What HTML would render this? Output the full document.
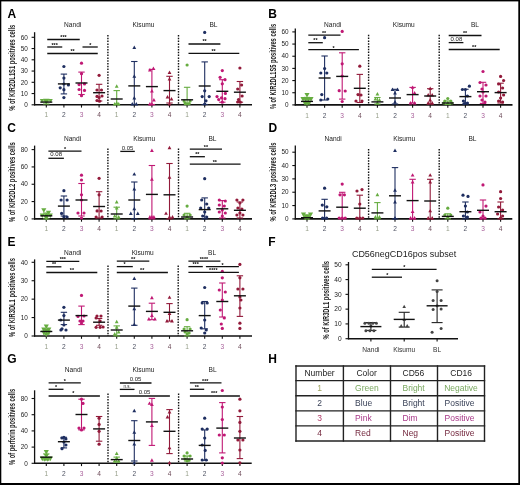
<!DOCTYPE html><html><head><meta charset="utf-8"><style>html,body{margin:0;padding:0;background:#fff;}svg{display:block;will-change:transform;}</style></head><body>
<svg width="520" height="485" viewBox="0 0 520 485" font-family='"Liberation Sans", sans-serif'>
<rect x="0" y="0" width="520" height="485" fill="#fff"/>
<text transform="translate(15,67.75) rotate(-90)" x="0" y="0" font-size="8.6" fill="#1a1a1a" font-weight="bold" text-anchor="middle" textLength="86" lengthAdjust="spacingAndGlyphs">% of KIR2DL1S1 positives cells</text>
<text x="72.7" y="26.7" font-size="6.6" fill="#222" text-anchor="middle" font-weight="normal" >Nandi</text>
<text x="143.5" y="26.7" font-size="6.6" fill="#222" text-anchor="middle" font-weight="normal" >Kisumu</text>
<text x="213.5" y="26.7" font-size="6.6" fill="#222" text-anchor="middle" font-weight="normal" >BL</text>
<line x1="107.9" y1="35" x2="107.9" y2="104.8" stroke="#111" stroke-width="1.4" stroke-dasharray="1.5 1.3"/>
<line x1="178.5" y1="35" x2="178.5" y2="104.8" stroke="#111" stroke-width="1.4" stroke-dasharray="1.5 1.3"/>
<line x1="34.6" y1="32.2" x2="34.6" y2="105.4" stroke="#111" stroke-width="1.3" />
<line x1="34" y1="104.8" x2="252" y2="104.8" stroke="#111" stroke-width="1.6" />
<line x1="31.6" y1="104.8" x2="34.6" y2="104.8" stroke="#111" stroke-width="1.1" />
<text x="27.8" y="107" font-size="6.4" fill="#222" text-anchor="end" font-weight="normal" >0</text>
<line x1="31.6" y1="93.55" x2="34.6" y2="93.55" stroke="#111" stroke-width="1.1" />
<text x="27.8" y="95.75" font-size="6.4" fill="#222" text-anchor="end" font-weight="normal" >10</text>
<line x1="31.6" y1="82.3" x2="34.6" y2="82.3" stroke="#111" stroke-width="1.1" />
<text x="27.8" y="84.5" font-size="6.4" fill="#222" text-anchor="end" font-weight="normal" >20</text>
<line x1="31.6" y1="71.05" x2="34.6" y2="71.05" stroke="#111" stroke-width="1.1" />
<text x="27.8" y="73.25" font-size="6.4" fill="#222" text-anchor="end" font-weight="normal" >30</text>
<line x1="31.6" y1="59.8" x2="34.6" y2="59.8" stroke="#111" stroke-width="1.1" />
<text x="27.8" y="62" font-size="6.4" fill="#222" text-anchor="end" font-weight="normal" >40</text>
<line x1="31.6" y1="48.55" x2="34.6" y2="48.55" stroke="#111" stroke-width="1.1" />
<text x="27.8" y="50.75" font-size="6.4" fill="#222" text-anchor="end" font-weight="normal" >50</text>
<line x1="31.6" y1="37.3" x2="34.6" y2="37.3" stroke="#111" stroke-width="1.1" />
<text x="27.8" y="39.5" font-size="6.4" fill="#222" text-anchor="end" font-weight="normal" >60</text>
<line x1="46.3" y1="104.8" x2="46.3" y2="107.6" stroke="#111" stroke-width="1.1" />
<text x="46.3" y="117.4" font-size="6.6" fill="#959d88" text-anchor="middle" font-weight="normal" >1</text>
<line x1="46.3" y1="101" x2="46.3" y2="104" stroke="#66ac40" stroke-width="1.1" />
<line x1="43.1" y1="101" x2="49.5" y2="101" stroke="#66ac40" stroke-width="1.1" />
<line x1="43.1" y1="104" x2="49.5" y2="104" stroke="#66ac40" stroke-width="1.1" />
<path d="M42 102.89L44.18 98.99L39.82 98.99Z" fill="#66ac40"/>
<path d="M50.6 102.89L52.78 98.99L48.42 98.99Z" fill="#66ac40"/>
<path d="M46.3 104.58L49.51 98.84L43.09 98.84Z" fill="#66ac40"/>
<line x1="40.3" y1="102.1" x2="52.3" y2="102.1" stroke="#111" stroke-width="1.4" />
<line x1="63.9" y1="104.8" x2="63.9" y2="107.6" stroke="#111" stroke-width="1.1" />
<text x="63.9" y="117.4" font-size="6.6" fill="#4e5262" text-anchor="middle" font-weight="normal" >2</text>
<line x1="63.9" y1="74.1" x2="63.9" y2="93.9" stroke="#1e2e60" stroke-width="1.1" />
<line x1="60.7" y1="74.1" x2="67.1" y2="74.1" stroke="#1e2e60" stroke-width="1.1" />
<line x1="60.7" y1="93.9" x2="67.1" y2="93.9" stroke="#1e2e60" stroke-width="1.1" />
<circle cx="63.9" cy="66.5" r="1.6" fill="#1e2e60"/>
<circle cx="63.9" cy="78.1" r="1.6" fill="#1e2e60"/>
<circle cx="68.4" cy="84.9" r="1.6" fill="#1e2e60"/>
<circle cx="60.2" cy="87.8" r="1.6" fill="#1e2e60"/>
<circle cx="63.9" cy="89.7" r="1.6" fill="#1e2e60"/>
<circle cx="63.9" cy="97.6" r="1.6" fill="#1e2e60"/>
<circle cx="63.9" cy="84" r="1.6" fill="#1e2e60"/>
<line x1="57.9" y1="83.9" x2="69.9" y2="83.9" stroke="#111" stroke-width="1.4" />
<line x1="81.5" y1="104.8" x2="81.5" y2="107.6" stroke="#111" stroke-width="1.1" />
<text x="81.5" y="117.4" font-size="6.6" fill="#a8609a" text-anchor="middle" font-weight="normal" >3</text>
<line x1="81.5" y1="72.1" x2="81.5" y2="94.5" stroke="#c01874" stroke-width="1.1" />
<line x1="78.3" y1="72.1" x2="84.7" y2="72.1" stroke="#c01874" stroke-width="1.1" />
<line x1="78.3" y1="94.5" x2="84.7" y2="94.5" stroke="#c01874" stroke-width="1.1" />
<circle cx="81.5" cy="63.2" r="1.6" fill="#c01874"/>
<circle cx="81.5" cy="73.7" r="1.6" fill="#c01874"/>
<circle cx="79.1" cy="84.6" r="1.6" fill="#c01874"/>
<circle cx="84.5" cy="83.9" r="1.6" fill="#c01874"/>
<circle cx="79.1" cy="89.5" r="1.6" fill="#c01874"/>
<circle cx="84.5" cy="90.4" r="1.6" fill="#c01874"/>
<circle cx="81.5" cy="95.7" r="1.6" fill="#c01874"/>
<line x1="75.5" y1="83" x2="87.5" y2="83" stroke="#111" stroke-width="1.4" />
<line x1="99.1" y1="104.8" x2="99.1" y2="107.6" stroke="#111" stroke-width="1.1" />
<text x="99.1" y="117.4" font-size="6.6" fill="#6e4c5a" text-anchor="middle" font-weight="normal" >4</text>
<line x1="99.1" y1="84.3" x2="99.1" y2="101" stroke="#921a3a" stroke-width="1.1" />
<line x1="95.9" y1="84.3" x2="102.3" y2="84.3" stroke="#921a3a" stroke-width="1.1" />
<line x1="95.9" y1="101" x2="102.3" y2="101" stroke="#921a3a" stroke-width="1.1" />
<circle cx="99.1" cy="75.3" r="1.6" fill="#921a3a"/>
<circle cx="97" cy="90" r="1.6" fill="#921a3a"/>
<circle cx="101.5" cy="90" r="1.6" fill="#921a3a"/>
<circle cx="97" cy="96.4" r="1.6" fill="#921a3a"/>
<circle cx="102" cy="96" r="1.6" fill="#921a3a"/>
<circle cx="99.1" cy="97.5" r="1.6" fill="#921a3a"/>
<circle cx="97" cy="100.5" r="1.6" fill="#921a3a"/>
<circle cx="99.5" cy="101.2" r="1.6" fill="#921a3a"/>
<line x1="93.1" y1="92.7" x2="105.1" y2="92.7" stroke="#111" stroke-width="1.4" />
<line x1="116.7" y1="104.8" x2="116.7" y2="107.6" stroke="#111" stroke-width="1.1" />
<text x="116.7" y="117.4" font-size="6.6" fill="#959d88" text-anchor="middle" font-weight="normal" >1</text>
<line x1="116.7" y1="90.6" x2="116.7" y2="104.5" stroke="#66ac40" stroke-width="1.1" />
<line x1="113.5" y1="90.6" x2="119.9" y2="90.6" stroke="#66ac40" stroke-width="1.1" />
<line x1="113.5" y1="104.5" x2="119.9" y2="104.5" stroke="#66ac40" stroke-width="1.1" />
<path d="M116.7 84.3L118.6 87.7L114.8 87.7Z" fill="#66ac40"/>
<path d="M116.7 101L118.6 104.4L114.8 104.4Z" fill="#66ac40"/>
<path d="M114.7 102L116.6 105.4L112.8 105.4Z" fill="#66ac40"/>
<path d="M118.7 102L120.6 105.4L116.8 105.4Z" fill="#66ac40"/>
<line x1="110.7" y1="99" x2="122.7" y2="99" stroke="#111" stroke-width="1.4" />
<line x1="134.3" y1="104.8" x2="134.3" y2="107.6" stroke="#111" stroke-width="1.1" />
<text x="134.3" y="117.4" font-size="6.6" fill="#4e5262" text-anchor="middle" font-weight="normal" >2</text>
<line x1="134.3" y1="61.5" x2="134.3" y2="104.5" stroke="#1e2e60" stroke-width="1.1" />
<line x1="131.1" y1="61.5" x2="137.5" y2="61.5" stroke="#1e2e60" stroke-width="1.1" />
<line x1="131.1" y1="104.5" x2="137.5" y2="104.5" stroke="#1e2e60" stroke-width="1.1" />
<path d="M134.3 45.5L136.2 48.9L132.4 48.9Z" fill="#1e2e60"/>
<path d="M134.3 74.3L136.2 77.7L132.4 77.7Z" fill="#1e2e60"/>
<path d="M134.3 96.1L136.2 99.5L132.4 99.5Z" fill="#1e2e60"/>
<path d="M132.3 102L134.2 105.4L130.4 105.4Z" fill="#1e2e60"/>
<path d="M136.3 102L138.2 105.4L134.4 105.4Z" fill="#1e2e60"/>
<line x1="128.3" y1="85.9" x2="140.3" y2="85.9" stroke="#111" stroke-width="1.4" />
<line x1="151.9" y1="104.8" x2="151.9" y2="107.6" stroke="#111" stroke-width="1.1" />
<text x="151.9" y="117.4" font-size="6.6" fill="#a8609a" text-anchor="middle" font-weight="normal" >3</text>
<line x1="151.9" y1="69.4" x2="151.9" y2="104.5" stroke="#c01874" stroke-width="1.1" />
<line x1="148.7" y1="69.4" x2="155.1" y2="69.4" stroke="#c01874" stroke-width="1.1" />
<line x1="148.7" y1="104.5" x2="155.1" y2="104.5" stroke="#c01874" stroke-width="1.1" />
<path d="M153.4 66.5L155.3 69.9L151.5 69.9Z" fill="#c01874"/>
<path d="M149.9 68L151.8 71.4L148 71.4Z" fill="#c01874"/>
<path d="M151.9 89L153.8 92.4L150 92.4Z" fill="#c01874"/>
<path d="M153.9 98L155.8 101.4L152 101.4Z" fill="#c01874"/>
<path d="M149.9 102L151.8 105.4L148 105.4Z" fill="#c01874"/>
<path d="M151.9 102L153.8 105.4L150 105.4Z" fill="#c01874"/>
<line x1="145.9" y1="86.6" x2="157.9" y2="86.6" stroke="#111" stroke-width="1.4" />
<line x1="169.5" y1="104.8" x2="169.5" y2="107.6" stroke="#111" stroke-width="1.1" />
<text x="169.5" y="117.4" font-size="6.6" fill="#6e4c5a" text-anchor="middle" font-weight="normal" >4</text>
<line x1="169.5" y1="76.3" x2="169.5" y2="103" stroke="#921a3a" stroke-width="1.1" />
<line x1="166.3" y1="76.3" x2="172.7" y2="76.3" stroke="#921a3a" stroke-width="1.1" />
<line x1="166.3" y1="103" x2="172.7" y2="103" stroke="#921a3a" stroke-width="1.1" />
<path d="M169.5 70.5L171.4 73.9L167.6 73.9Z" fill="#921a3a"/>
<path d="M169.5 77L171.4 80.4L167.6 80.4Z" fill="#921a3a"/>
<path d="M167.5 95L169.4 98.4L165.6 98.4Z" fill="#921a3a"/>
<path d="M171.5 97L173.4 100.4L169.6 100.4Z" fill="#921a3a"/>
<path d="M169.5 102L171.4 105.4L167.6 105.4Z" fill="#921a3a"/>
<line x1="163.5" y1="90.6" x2="175.5" y2="90.6" stroke="#111" stroke-width="1.4" />
<line x1="187.1" y1="104.8" x2="187.1" y2="107.6" stroke="#111" stroke-width="1.1" />
<text x="187.1" y="117.4" font-size="6.6" fill="#959d88" text-anchor="middle" font-weight="normal" >1</text>
<line x1="187.1" y1="87.3" x2="187.1" y2="104.5" stroke="#66ac40" stroke-width="1.1" />
<line x1="183.9" y1="87.3" x2="190.3" y2="87.3" stroke="#66ac40" stroke-width="1.1" />
<line x1="183.9" y1="104.5" x2="190.3" y2="104.5" stroke="#66ac40" stroke-width="1.1" />
<circle cx="187.1" cy="65" r="1.6" fill="#66ac40"/>
<circle cx="184.1" cy="101" r="1.6" fill="#66ac40"/>
<circle cx="190.1" cy="101" r="1.6" fill="#66ac40"/>
<circle cx="185.1" cy="103" r="1.6" fill="#66ac40"/>
<circle cx="189.1" cy="103.5" r="1.6" fill="#66ac40"/>
<circle cx="187.1" cy="104" r="1.6" fill="#66ac40"/>
<line x1="181.1" y1="99.8" x2="193.1" y2="99.8" stroke="#111" stroke-width="1.4" />
<line x1="204.7" y1="104.8" x2="204.7" y2="107.6" stroke="#111" stroke-width="1.1" />
<text x="204.7" y="117.4" font-size="6.6" fill="#4e5262" text-anchor="middle" font-weight="normal" >2</text>
<line x1="204.7" y1="61.9" x2="204.7" y2="104.5" stroke="#1e2e60" stroke-width="1.1" />
<line x1="201.5" y1="61.9" x2="207.9" y2="61.9" stroke="#1e2e60" stroke-width="1.1" />
<line x1="201.5" y1="104.5" x2="207.9" y2="104.5" stroke="#1e2e60" stroke-width="1.1" />
<circle cx="204.7" cy="32.4" r="1.6" fill="#1e2e60"/>
<circle cx="204.7" cy="90.8" r="1.6" fill="#1e2e60"/>
<circle cx="202.2" cy="96.6" r="1.6" fill="#1e2e60"/>
<circle cx="209.2" cy="96.6" r="1.6" fill="#1e2e60"/>
<circle cx="206" cy="100.8" r="1.6" fill="#1e2e60"/>
<circle cx="204.7" cy="104" r="1.6" fill="#1e2e60"/>
<line x1="198.7" y1="86" x2="210.7" y2="86" stroke="#111" stroke-width="1.4" />
<line x1="222.3" y1="104.8" x2="222.3" y2="107.6" stroke="#111" stroke-width="1.1" />
<text x="222.3" y="117.4" font-size="6.6" fill="#a8609a" text-anchor="middle" font-weight="normal" >3</text>
<line x1="222.3" y1="79.7" x2="222.3" y2="102.2" stroke="#c01874" stroke-width="1.1" />
<line x1="219.1" y1="79.7" x2="225.5" y2="79.7" stroke="#c01874" stroke-width="1.1" />
<line x1="219.1" y1="102.2" x2="225.5" y2="102.2" stroke="#c01874" stroke-width="1.1" />
<circle cx="222.3" cy="70.6" r="1.6" fill="#c01874"/>
<circle cx="220.1" cy="77.3" r="1.6" fill="#c01874"/>
<circle cx="225" cy="79.7" r="1.6" fill="#c01874"/>
<circle cx="222.3" cy="83.8" r="1.6" fill="#c01874"/>
<circle cx="225.4" cy="93.4" r="1.6" fill="#c01874"/>
<circle cx="217" cy="96.6" r="1.6" fill="#c01874"/>
<circle cx="221.5" cy="97.8" r="1.6" fill="#c01874"/>
<circle cx="218.7" cy="99.6" r="1.6" fill="#c01874"/>
<circle cx="225" cy="98.7" r="1.6" fill="#c01874"/>
<circle cx="222.3" cy="102.2" r="1.6" fill="#c01874"/>
<line x1="216.3" y1="91.3" x2="228.3" y2="91.3" stroke="#111" stroke-width="1.4" />
<line x1="239.9" y1="104.8" x2="239.9" y2="107.6" stroke="#111" stroke-width="1.1" />
<text x="239.9" y="117.4" font-size="6.6" fill="#6e4c5a" text-anchor="middle" font-weight="normal" >4</text>
<line x1="239.9" y1="81.5" x2="239.9" y2="102.2" stroke="#921a3a" stroke-width="1.1" />
<line x1="236.7" y1="81.5" x2="243.1" y2="81.5" stroke="#921a3a" stroke-width="1.1" />
<line x1="236.7" y1="102.2" x2="243.1" y2="102.2" stroke="#921a3a" stroke-width="1.1" />
<circle cx="239.9" cy="68" r="1.6" fill="#921a3a"/>
<circle cx="241.6" cy="85" r="1.6" fill="#921a3a"/>
<circle cx="237.7" cy="89" r="1.6" fill="#921a3a"/>
<circle cx="242.1" cy="96" r="1.6" fill="#921a3a"/>
<circle cx="238.5" cy="99.6" r="1.6" fill="#921a3a"/>
<circle cx="240.3" cy="102.2" r="1.6" fill="#921a3a"/>
<circle cx="237.7" cy="102" r="1.6" fill="#921a3a"/>
<line x1="233.9" y1="92.2" x2="245.9" y2="92.2" stroke="#111" stroke-width="1.4" />
<line x1="47.25" y1="39.5" x2="79.75" y2="39.5" stroke="#111" stroke-width="1.3" />
<text x="63.5" y="39.37" font-size="5.4" fill="#000" text-anchor="middle" font-weight="bold" >***</text>
<line x1="47.25" y1="47" x2="62.25" y2="47" stroke="#111" stroke-width="1.3" />
<text x="54.6" y="46.52" font-size="5.4" fill="#000" text-anchor="middle" font-weight="bold" >***</text>
<line x1="82.5" y1="47" x2="97.75" y2="47" stroke="#111" stroke-width="1.3" />
<text x="90.25" y="46.77" font-size="5.4" fill="#000" text-anchor="middle" font-weight="bold" >*</text>
<line x1="47.25" y1="53.5" x2="97.75" y2="53.5" stroke="#111" stroke-width="1.3" />
<text x="72.5" y="53.37" font-size="5.4" fill="#000" text-anchor="middle" font-weight="bold" >**</text>
<line x1="188.5" y1="44" x2="220.4" y2="44" stroke="#111" stroke-width="1.3" />
<text x="204.6" y="43.37" font-size="5.4" fill="#000" text-anchor="middle" font-weight="bold" >**</text>
<line x1="188.5" y1="53.3" x2="239.3" y2="53.3" stroke="#111" stroke-width="1.3" />
<text x="213.5" y="53.07" font-size="5.4" fill="#000" text-anchor="middle" font-weight="bold" >**</text>
<text transform="translate(275.5,66.5) rotate(-90)" x="0" y="0" font-size="8.6" fill="#1a1a1a" font-weight="bold" text-anchor="middle" textLength="85.2" lengthAdjust="spacingAndGlyphs">% of KIR2DL1S5 positives cells</text>
<text x="332.7" y="26.7" font-size="6.6" fill="#222" text-anchor="middle" font-weight="normal" >Nandi</text>
<text x="403.8" y="26.7" font-size="6.6" fill="#222" text-anchor="middle" font-weight="normal" >Kisumu</text>
<text x="475" y="26.7" font-size="6.6" fill="#222" text-anchor="middle" font-weight="normal" >BL</text>
<line x1="368.6" y1="34.8" x2="368.6" y2="104.9" stroke="#111" stroke-width="1.4" stroke-dasharray="1.5 1.3"/>
<line x1="439.2" y1="34.8" x2="439.2" y2="104.9" stroke="#111" stroke-width="1.4" stroke-dasharray="1.5 1.3"/>
<line x1="295.3" y1="28.5" x2="295.3" y2="105.5" stroke="#111" stroke-width="1.3" />
<line x1="294.7" y1="104.9" x2="512.5" y2="104.9" stroke="#111" stroke-width="1.6" />
<line x1="292.3" y1="104.9" x2="295.3" y2="104.9" stroke="#111" stroke-width="1.1" />
<text x="288.5" y="107.1" font-size="6.4" fill="#222" text-anchor="end" font-weight="normal" >0</text>
<line x1="292.3" y1="92.73" x2="295.3" y2="92.73" stroke="#111" stroke-width="1.1" />
<text x="288.5" y="94.93" font-size="6.4" fill="#222" text-anchor="end" font-weight="normal" >10</text>
<line x1="292.3" y1="80.57" x2="295.3" y2="80.57" stroke="#111" stroke-width="1.1" />
<text x="288.5" y="82.77" font-size="6.4" fill="#222" text-anchor="end" font-weight="normal" >20</text>
<line x1="292.3" y1="68.4" x2="295.3" y2="68.4" stroke="#111" stroke-width="1.1" />
<text x="288.5" y="70.6" font-size="6.4" fill="#222" text-anchor="end" font-weight="normal" >30</text>
<line x1="292.3" y1="56.23" x2="295.3" y2="56.23" stroke="#111" stroke-width="1.1" />
<text x="288.5" y="58.43" font-size="6.4" fill="#222" text-anchor="end" font-weight="normal" >40</text>
<line x1="292.3" y1="44.07" x2="295.3" y2="44.07" stroke="#111" stroke-width="1.1" />
<text x="288.5" y="46.27" font-size="6.4" fill="#222" text-anchor="end" font-weight="normal" >50</text>
<line x1="292.3" y1="31.9" x2="295.3" y2="31.9" stroke="#111" stroke-width="1.1" />
<text x="288.5" y="34.1" font-size="6.4" fill="#222" text-anchor="end" font-weight="normal" >60</text>
<line x1="307" y1="104.9" x2="307" y2="107.7" stroke="#111" stroke-width="1.1" />
<text x="307" y="118" font-size="6.6" fill="#959d88" text-anchor="middle" font-weight="normal" >1</text>
<line x1="307" y1="97.4" x2="307" y2="103.5" stroke="#66ac40" stroke-width="1.1" />
<line x1="303.8" y1="97.4" x2="310.2" y2="97.4" stroke="#66ac40" stroke-width="1.1" />
<line x1="303.8" y1="103.5" x2="310.2" y2="103.5" stroke="#66ac40" stroke-width="1.1" />
<path d="M307 97.6L309.56 93.01L304.44 93.01Z" fill="#66ac40"/>
<path d="M303 101.7L305.56 97.11L300.44 97.11Z" fill="#66ac40"/>
<path d="M311 101.7L313.56 97.11L308.44 97.11Z" fill="#66ac40"/>
<path d="M305.5 102.2L308.06 97.61L302.94 97.61Z" fill="#66ac40"/>
<path d="M308.5 102.2L311.06 97.61L305.94 97.61Z" fill="#66ac40"/>
<path d="M305 105.7L307.56 101.11L302.44 101.11Z" fill="#66ac40"/>
<path d="M309 105.7L311.56 101.11L306.44 101.11Z" fill="#66ac40"/>
<path d="M307 106.2L309.56 101.61L304.44 101.61Z" fill="#66ac40"/>
<line x1="301" y1="101.4" x2="313" y2="101.4" stroke="#111" stroke-width="1.4" />
<line x1="324.6" y1="104.9" x2="324.6" y2="107.7" stroke="#111" stroke-width="1.1" />
<text x="324.6" y="118" font-size="6.6" fill="#4e5262" text-anchor="middle" font-weight="normal" >2</text>
<line x1="324.6" y1="56" x2="324.6" y2="100" stroke="#1e2e60" stroke-width="1.1" />
<line x1="321.4" y1="56" x2="327.8" y2="56" stroke="#1e2e60" stroke-width="1.1" />
<line x1="321.4" y1="100" x2="327.8" y2="100" stroke="#1e2e60" stroke-width="1.1" />
<circle cx="324.6" cy="37.7" r="1.6" fill="#1e2e60"/>
<circle cx="324.6" cy="68.5" r="1.6" fill="#1e2e60"/>
<circle cx="320.8" cy="73" r="1.6" fill="#1e2e60"/>
<circle cx="326.8" cy="73" r="1.6" fill="#1e2e60"/>
<circle cx="321.8" cy="94.6" r="1.6" fill="#1e2e60"/>
<circle cx="320.8" cy="100" r="1.6" fill="#1e2e60"/>
<circle cx="327.8" cy="99" r="1.6" fill="#1e2e60"/>
<line x1="318.6" y1="78" x2="330.6" y2="78" stroke="#111" stroke-width="1.4" />
<line x1="342.2" y1="104.9" x2="342.2" y2="107.7" stroke="#111" stroke-width="1.1" />
<text x="342.2" y="118" font-size="6.6" fill="#a8609a" text-anchor="middle" font-weight="normal" >3</text>
<line x1="342.2" y1="52.8" x2="342.2" y2="99.1" stroke="#c01874" stroke-width="1.1" />
<line x1="339" y1="52.8" x2="345.4" y2="52.8" stroke="#c01874" stroke-width="1.1" />
<line x1="339" y1="99.1" x2="345.4" y2="99.1" stroke="#c01874" stroke-width="1.1" />
<circle cx="342.2" cy="31.4" r="1.6" fill="#c01874"/>
<circle cx="342.2" cy="63.8" r="1.6" fill="#c01874"/>
<circle cx="342.2" cy="76" r="1.6" fill="#c01874"/>
<circle cx="339.2" cy="90.7" r="1.6" fill="#c01874"/>
<circle cx="345.2" cy="91" r="1.6" fill="#c01874"/>
<circle cx="342.2" cy="101.5" r="1.6" fill="#c01874"/>
<line x1="336.2" y1="76.4" x2="348.2" y2="76.4" stroke="#111" stroke-width="1.4" />
<line x1="359.8" y1="104.9" x2="359.8" y2="107.7" stroke="#111" stroke-width="1.1" />
<text x="359.8" y="118" font-size="6.6" fill="#6e4c5a" text-anchor="middle" font-weight="normal" >4</text>
<line x1="359.8" y1="74.4" x2="359.8" y2="102.5" stroke="#921a3a" stroke-width="1.1" />
<line x1="356.6" y1="74.4" x2="363" y2="74.4" stroke="#921a3a" stroke-width="1.1" />
<line x1="356.6" y1="102.5" x2="363" y2="102.5" stroke="#921a3a" stroke-width="1.1" />
<circle cx="359.8" cy="66.2" r="1.6" fill="#921a3a"/>
<circle cx="358" cy="94.6" r="1.6" fill="#921a3a"/>
<circle cx="361" cy="95" r="1.6" fill="#921a3a"/>
<circle cx="356" cy="101" r="1.6" fill="#921a3a"/>
<circle cx="362" cy="101" r="1.6" fill="#921a3a"/>
<line x1="353.8" y1="88.3" x2="365.8" y2="88.3" stroke="#111" stroke-width="1.4" />
<line x1="377.4" y1="104.9" x2="377.4" y2="107.7" stroke="#111" stroke-width="1.1" />
<text x="377.4" y="118" font-size="6.6" fill="#959d88" text-anchor="middle" font-weight="normal" >1</text>
<line x1="377.4" y1="97.5" x2="377.4" y2="104" stroke="#66ac40" stroke-width="1.1" />
<line x1="374.2" y1="97.5" x2="380.6" y2="97.5" stroke="#66ac40" stroke-width="1.1" />
<line x1="374.2" y1="104" x2="380.6" y2="104" stroke="#66ac40" stroke-width="1.1" />
<path d="M377.4 92L379.3 95.4L375.5 95.4Z" fill="#66ac40"/>
<path d="M375.4 97L377.3 100.4L373.5 100.4Z" fill="#66ac40"/>
<path d="M379.4 98L381.3 101.4L377.5 101.4Z" fill="#66ac40"/>
<path d="M377.4 101L379.3 104.4L375.5 104.4Z" fill="#66ac40"/>
<line x1="371.4" y1="101.9" x2="383.4" y2="101.9" stroke="#111" stroke-width="1.4" />
<line x1="395" y1="104.9" x2="395" y2="107.7" stroke="#111" stroke-width="1.1" />
<text x="395" y="118" font-size="6.6" fill="#4e5262" text-anchor="middle" font-weight="normal" >2</text>
<line x1="395" y1="89.3" x2="395" y2="104" stroke="#1e2e60" stroke-width="1.1" />
<line x1="391.8" y1="89.3" x2="398.2" y2="89.3" stroke="#1e2e60" stroke-width="1.1" />
<line x1="391.8" y1="104" x2="398.2" y2="104" stroke="#1e2e60" stroke-width="1.1" />
<path d="M392.5 87.5L394.4 90.9L390.6 90.9Z" fill="#1e2e60"/>
<path d="M397.5 87.5L399.4 90.9L395.6 90.9Z" fill="#1e2e60"/>
<path d="M395 91L396.9 94.4L393.1 94.4Z" fill="#1e2e60"/>
<path d="M395 100L396.9 103.4L393.1 103.4Z" fill="#1e2e60"/>
<line x1="389" y1="98" x2="401" y2="98" stroke="#111" stroke-width="1.4" />
<line x1="412.6" y1="104.9" x2="412.6" y2="107.7" stroke="#111" stroke-width="1.1" />
<text x="412.6" y="118" font-size="6.6" fill="#a8609a" text-anchor="middle" font-weight="normal" >3</text>
<line x1="412.6" y1="87.4" x2="412.6" y2="103" stroke="#c01874" stroke-width="1.1" />
<line x1="409.4" y1="87.4" x2="415.8" y2="87.4" stroke="#c01874" stroke-width="1.1" />
<line x1="409.4" y1="103" x2="415.8" y2="103" stroke="#c01874" stroke-width="1.1" />
<path d="M412.6 85.4L414.5 88.8L410.7 88.8Z" fill="#c01874"/>
<path d="M414.6 91L416.5 94.4L412.7 94.4Z" fill="#c01874"/>
<path d="M410.6 101L412.5 104.4L408.7 104.4Z" fill="#c01874"/>
<path d="M414.6 101L416.5 104.4L412.7 104.4Z" fill="#c01874"/>
<line x1="406.6" y1="94.6" x2="418.6" y2="94.6" stroke="#111" stroke-width="1.4" />
<line x1="430.2" y1="104.9" x2="430.2" y2="107.7" stroke="#111" stroke-width="1.1" />
<text x="430.2" y="118" font-size="6.6" fill="#6e4c5a" text-anchor="middle" font-weight="normal" >4</text>
<line x1="430.2" y1="88.7" x2="430.2" y2="104" stroke="#921a3a" stroke-width="1.1" />
<line x1="427" y1="88.7" x2="433.4" y2="88.7" stroke="#921a3a" stroke-width="1.1" />
<line x1="427" y1="104" x2="433.4" y2="104" stroke="#921a3a" stroke-width="1.1" />
<path d="M430.2 86.5L432.1 89.9L428.3 89.9Z" fill="#921a3a"/>
<path d="M428.2 93L430.1 96.4L426.3 96.4Z" fill="#921a3a"/>
<path d="M432.2 93L434.1 96.4L430.3 96.4Z" fill="#921a3a"/>
<path d="M430.2 98L432.1 101.4L428.3 101.4Z" fill="#921a3a"/>
<path d="M428.2 101L430.1 104.4L426.3 104.4Z" fill="#921a3a"/>
<path d="M432.2 101L434.1 104.4L430.3 104.4Z" fill="#921a3a"/>
<line x1="424.2" y1="96" x2="436.2" y2="96" stroke="#111" stroke-width="1.4" />
<line x1="447.8" y1="104.9" x2="447.8" y2="107.7" stroke="#111" stroke-width="1.1" />
<text x="447.8" y="118" font-size="6.6" fill="#959d88" text-anchor="middle" font-weight="normal" >1</text>
<line x1="447.8" y1="101" x2="447.8" y2="104.5" stroke="#66ac40" stroke-width="1.1" />
<line x1="444.6" y1="101" x2="451" y2="101" stroke="#66ac40" stroke-width="1.1" />
<line x1="444.6" y1="104.5" x2="451" y2="104.5" stroke="#66ac40" stroke-width="1.1" />
<circle cx="447.8" cy="98.5" r="1.6" fill="#66ac40"/>
<circle cx="444.8" cy="101" r="1.6" fill="#66ac40"/>
<circle cx="450.8" cy="101" r="1.6" fill="#66ac40"/>
<circle cx="443.8" cy="103" r="1.6" fill="#66ac40"/>
<circle cx="451.8" cy="103" r="1.6" fill="#66ac40"/>
<circle cx="447.8" cy="103.5" r="1.6" fill="#66ac40"/>
<line x1="441.8" y1="103" x2="453.8" y2="103" stroke="#111" stroke-width="1.4" />
<line x1="465.4" y1="104.9" x2="465.4" y2="107.7" stroke="#111" stroke-width="1.1" />
<text x="465.4" y="118" font-size="6.6" fill="#4e5262" text-anchor="middle" font-weight="normal" >2</text>
<line x1="465.4" y1="89.3" x2="465.4" y2="104" stroke="#1e2e60" stroke-width="1.1" />
<line x1="462.2" y1="89.3" x2="468.6" y2="89.3" stroke="#1e2e60" stroke-width="1.1" />
<line x1="462.2" y1="104" x2="468.6" y2="104" stroke="#1e2e60" stroke-width="1.1" />
<circle cx="469.4" cy="86.2" r="1.6" fill="#1e2e60"/>
<circle cx="462.4" cy="89.5" r="1.6" fill="#1e2e60"/>
<circle cx="465.4" cy="89.5" r="1.6" fill="#1e2e60"/>
<circle cx="467.4" cy="96" r="1.6" fill="#1e2e60"/>
<circle cx="463.4" cy="101" r="1.6" fill="#1e2e60"/>
<circle cx="467.4" cy="103" r="1.6" fill="#1e2e60"/>
<circle cx="464.4" cy="103.5" r="1.6" fill="#1e2e60"/>
<line x1="459.4" y1="96.6" x2="471.4" y2="96.6" stroke="#111" stroke-width="1.4" />
<line x1="483" y1="104.9" x2="483" y2="107.7" stroke="#111" stroke-width="1.1" />
<text x="483" y="118" font-size="6.6" fill="#a8609a" text-anchor="middle" font-weight="normal" >3</text>
<line x1="483" y1="82.3" x2="483" y2="103.4" stroke="#c01874" stroke-width="1.1" />
<line x1="479.8" y1="82.3" x2="486.2" y2="82.3" stroke="#c01874" stroke-width="1.1" />
<line x1="479.8" y1="103.4" x2="486.2" y2="103.4" stroke="#c01874" stroke-width="1.1" />
<circle cx="483" cy="71.5" r="1.6" fill="#c01874"/>
<circle cx="480" cy="82.5" r="1.6" fill="#c01874"/>
<circle cx="486" cy="85" r="1.6" fill="#c01874"/>
<circle cx="482" cy="89" r="1.6" fill="#c01874"/>
<circle cx="483" cy="92" r="1.6" fill="#c01874"/>
<circle cx="480" cy="96" r="1.6" fill="#c01874"/>
<circle cx="486" cy="96" r="1.6" fill="#c01874"/>
<circle cx="482" cy="100" r="1.6" fill="#c01874"/>
<circle cx="485" cy="102" r="1.6" fill="#c01874"/>
<line x1="477" y1="91.7" x2="489" y2="91.7" stroke="#111" stroke-width="1.4" />
<line x1="500.6" y1="104.9" x2="500.6" y2="107.7" stroke="#111" stroke-width="1.1" />
<text x="500.6" y="118" font-size="6.6" fill="#6e4c5a" text-anchor="middle" font-weight="normal" >4</text>
<line x1="500.6" y1="83.2" x2="500.6" y2="103" stroke="#921a3a" stroke-width="1.1" />
<line x1="497.4" y1="83.2" x2="503.8" y2="83.2" stroke="#921a3a" stroke-width="1.1" />
<line x1="497.4" y1="103" x2="503.8" y2="103" stroke="#921a3a" stroke-width="1.1" />
<circle cx="500.6" cy="76.4" r="1.6" fill="#921a3a"/>
<circle cx="503.6" cy="80.5" r="1.6" fill="#921a3a"/>
<circle cx="498.6" cy="84" r="1.6" fill="#921a3a"/>
<circle cx="502.6" cy="88" r="1.6" fill="#921a3a"/>
<circle cx="498.6" cy="92" r="1.6" fill="#921a3a"/>
<circle cx="503.6" cy="95" r="1.6" fill="#921a3a"/>
<circle cx="500.6" cy="98" r="1.6" fill="#921a3a"/>
<circle cx="498.6" cy="101" r="1.6" fill="#921a3a"/>
<circle cx="502.6" cy="102" r="1.6" fill="#921a3a"/>
<line x1="494.6" y1="92.6" x2="506.6" y2="92.6" stroke="#111" stroke-width="1.4" />
<line x1="308.3" y1="35.2" x2="340.5" y2="35.2" stroke="#111" stroke-width="1.3" />
<text x="324" y="34.97" font-size="5.4" fill="#000" text-anchor="middle" font-weight="bold" >**</text>
<line x1="308.3" y1="42.7" x2="322.8" y2="42.7" stroke="#111" stroke-width="1.3" />
<text x="315.4" y="42.17" font-size="5.4" fill="#000" text-anchor="middle" font-weight="bold" >**</text>
<line x1="308.3" y1="49.7" x2="358.9" y2="49.7" stroke="#111" stroke-width="1.3" />
<text x="333.6" y="49.57" font-size="5.4" fill="#000" text-anchor="middle" font-weight="bold" >*</text>
<line x1="448.7" y1="35.5" x2="481.5" y2="35.5" stroke="#111" stroke-width="1.3" />
<text x="465" y="34.67" font-size="5.4" fill="#000" text-anchor="middle" font-weight="bold" >**</text>
<line x1="448.7" y1="42.6" x2="463.4" y2="42.6" stroke="#111" stroke-width="1.3" />
<text x="456.4" y="41" font-size="6" fill="#222" text-anchor="middle" font-weight="normal" >0.08</text>
<line x1="448.7" y1="49.5" x2="499.7" y2="49.5" stroke="#111" stroke-width="1.3" />
<text x="474.2" y="48.97" font-size="5.4" fill="#000" text-anchor="middle" font-weight="bold" >**</text>
<text transform="translate(15.1,182.15) rotate(-90)" x="0" y="0" font-size="8.6" fill="#1a1a1a" font-weight="bold" text-anchor="middle" textLength="79.8" lengthAdjust="spacingAndGlyphs">% of KIR2DL2 positives cells</text>
<text x="72.5" y="140.6" font-size="6.6" fill="#222" text-anchor="middle" font-weight="normal" >Nandi</text>
<text x="144.2" y="140.6" font-size="6.6" fill="#222" text-anchor="middle" font-weight="normal" >Kisumu</text>
<text x="212.5" y="140.6" font-size="6.6" fill="#222" text-anchor="middle" font-weight="normal" >BL</text>
<line x1="107.9" y1="148.5" x2="107.9" y2="218.9" stroke="#111" stroke-width="1.4" stroke-dasharray="1.5 1.3"/>
<line x1="178.5" y1="148.5" x2="178.5" y2="218.9" stroke="#111" stroke-width="1.4" stroke-dasharray="1.5 1.3"/>
<line x1="34.6" y1="145.6" x2="34.6" y2="219.5" stroke="#111" stroke-width="1.3" />
<line x1="34" y1="218.9" x2="252" y2="218.9" stroke="#111" stroke-width="1.6" />
<line x1="31.6" y1="218.9" x2="34.6" y2="218.9" stroke="#111" stroke-width="1.1" />
<text x="27.8" y="221.1" font-size="6.4" fill="#222" text-anchor="end" font-weight="normal" >0</text>
<line x1="31.6" y1="201.57" x2="34.6" y2="201.57" stroke="#111" stroke-width="1.1" />
<text x="27.8" y="203.77" font-size="6.4" fill="#222" text-anchor="end" font-weight="normal" >20</text>
<line x1="31.6" y1="184.25" x2="34.6" y2="184.25" stroke="#111" stroke-width="1.1" />
<text x="27.8" y="186.45" font-size="6.4" fill="#222" text-anchor="end" font-weight="normal" >40</text>
<line x1="31.6" y1="166.93" x2="34.6" y2="166.93" stroke="#111" stroke-width="1.1" />
<text x="27.8" y="169.12" font-size="6.4" fill="#222" text-anchor="end" font-weight="normal" >60</text>
<line x1="31.6" y1="149.6" x2="34.6" y2="149.6" stroke="#111" stroke-width="1.1" />
<text x="27.8" y="151.8" font-size="6.4" fill="#222" text-anchor="end" font-weight="normal" >80</text>
<line x1="46.3" y1="218.9" x2="46.3" y2="221.7" stroke="#111" stroke-width="1.1" />
<text x="46.3" y="231" font-size="6.6" fill="#959d88" text-anchor="middle" font-weight="normal" >1</text>
<line x1="46.3" y1="213" x2="46.3" y2="218.9" stroke="#66ac40" stroke-width="1.1" />
<line x1="43.1" y1="213" x2="49.5" y2="213" stroke="#66ac40" stroke-width="1.1" />
<line x1="43.1" y1="218.9" x2="49.5" y2="218.9" stroke="#66ac40" stroke-width="1.1" />
<path d="M43.8 212.8L46.36 208.21L41.23 208.21Z" fill="#66ac40"/>
<path d="M48.5 215.3L51.06 210.71L45.94 210.71Z" fill="#66ac40"/>
<path d="M42.3 218L44.86 213.41L39.73 213.41Z" fill="#66ac40"/>
<path d="M46.3 218L48.86 213.41L43.73 213.41Z" fill="#66ac40"/>
<path d="M50.3 218L52.86 213.41L47.73 213.41Z" fill="#66ac40"/>
<path d="M46.3 220.7L48.86 216.11L43.73 216.11Z" fill="#66ac40"/>
<line x1="40.3" y1="215.8" x2="52.3" y2="215.8" stroke="#111" stroke-width="1.4" />
<line x1="63.9" y1="218.9" x2="63.9" y2="221.7" stroke="#111" stroke-width="1.1" />
<text x="63.9" y="231" font-size="6.6" fill="#4e5262" text-anchor="middle" font-weight="normal" >2</text>
<line x1="63.9" y1="196" x2="63.9" y2="216" stroke="#1e2e60" stroke-width="1.1" />
<line x1="60.7" y1="196" x2="67.1" y2="196" stroke="#1e2e60" stroke-width="1.1" />
<line x1="60.7" y1="216" x2="67.1" y2="216" stroke="#1e2e60" stroke-width="1.1" />
<circle cx="63.9" cy="190.7" r="1.6" fill="#1e2e60"/>
<circle cx="61.1" cy="200" r="1.6" fill="#1e2e60"/>
<circle cx="67.1" cy="200" r="1.6" fill="#1e2e60"/>
<circle cx="61.6" cy="213.4" r="1.6" fill="#1e2e60"/>
<circle cx="63.9" cy="216.8" r="1.6" fill="#1e2e60"/>
<circle cx="67.1" cy="217" r="1.6" fill="#1e2e60"/>
<line x1="57.9" y1="206.1" x2="69.9" y2="206.1" stroke="#111" stroke-width="1.4" />
<line x1="81.5" y1="218.9" x2="81.5" y2="221.7" stroke="#111" stroke-width="1.1" />
<text x="81.5" y="231" font-size="6.6" fill="#a8609a" text-anchor="middle" font-weight="normal" >3</text>
<line x1="81.5" y1="183.5" x2="81.5" y2="216" stroke="#c01874" stroke-width="1.1" />
<line x1="78.3" y1="183.5" x2="84.7" y2="183.5" stroke="#c01874" stroke-width="1.1" />
<line x1="78.3" y1="216" x2="84.7" y2="216" stroke="#c01874" stroke-width="1.1" />
<circle cx="81.5" cy="175.2" r="1.6" fill="#c01874"/>
<circle cx="81.5" cy="180" r="1.6" fill="#c01874"/>
<circle cx="81.5" cy="194.8" r="1.6" fill="#c01874"/>
<circle cx="81.5" cy="200" r="1.6" fill="#c01874"/>
<circle cx="78" cy="213" r="1.6" fill="#c01874"/>
<circle cx="84" cy="213" r="1.6" fill="#c01874"/>
<circle cx="81.5" cy="218" r="1.6" fill="#c01874"/>
<line x1="75.5" y1="200" x2="87.5" y2="200" stroke="#111" stroke-width="1.4" />
<line x1="99.1" y1="218.9" x2="99.1" y2="221.7" stroke="#111" stroke-width="1.1" />
<text x="99.1" y="231" font-size="6.6" fill="#6e4c5a" text-anchor="middle" font-weight="normal" >4</text>
<line x1="99.1" y1="191.7" x2="99.1" y2="218" stroke="#921a3a" stroke-width="1.1" />
<line x1="95.9" y1="191.7" x2="102.3" y2="191.7" stroke="#921a3a" stroke-width="1.1" />
<line x1="95.9" y1="218" x2="102.3" y2="218" stroke="#921a3a" stroke-width="1.1" />
<circle cx="99.1" cy="178.3" r="1.6" fill="#921a3a"/>
<circle cx="99.1" cy="194.8" r="1.6" fill="#921a3a"/>
<circle cx="97.1" cy="210.9" r="1.6" fill="#921a3a"/>
<circle cx="101.1" cy="211" r="1.6" fill="#921a3a"/>
<circle cx="96.1" cy="217" r="1.6" fill="#921a3a"/>
<circle cx="102.1" cy="217" r="1.6" fill="#921a3a"/>
<line x1="93.1" y1="206.5" x2="105.1" y2="206.5" stroke="#111" stroke-width="1.4" />
<line x1="116.7" y1="218.9" x2="116.7" y2="221.7" stroke="#111" stroke-width="1.1" />
<text x="116.7" y="231" font-size="6.6" fill="#959d88" text-anchor="middle" font-weight="normal" >1</text>
<line x1="116.7" y1="207.2" x2="116.7" y2="218.9" stroke="#66ac40" stroke-width="1.1" />
<line x1="113.5" y1="207.2" x2="119.9" y2="207.2" stroke="#66ac40" stroke-width="1.1" />
<line x1="113.5" y1="218.9" x2="119.9" y2="218.9" stroke="#66ac40" stroke-width="1.1" />
<path d="M116.7 200L118.6 203.4L114.8 203.4Z" fill="#66ac40"/>
<path d="M116.7 206L118.6 209.4L114.8 209.4Z" fill="#66ac40"/>
<path d="M114.7 214L116.6 217.4L112.8 217.4Z" fill="#66ac40"/>
<path d="M118.7 215L120.6 218.4L116.8 218.4Z" fill="#66ac40"/>
<line x1="110.7" y1="214" x2="122.7" y2="214" stroke="#111" stroke-width="1.4" />
<line x1="134.3" y1="218.9" x2="134.3" y2="221.7" stroke="#111" stroke-width="1.1" />
<text x="134.3" y="231" font-size="6.6" fill="#4e5262" text-anchor="middle" font-weight="normal" >2</text>
<line x1="134.3" y1="182" x2="134.3" y2="218.9" stroke="#1e2e60" stroke-width="1.1" />
<line x1="131.1" y1="182" x2="137.5" y2="182" stroke="#1e2e60" stroke-width="1.1" />
<line x1="131.1" y1="218.9" x2="137.5" y2="218.9" stroke="#1e2e60" stroke-width="1.1" />
<path d="M134.3 172.2L136.2 175.6L132.4 175.6Z" fill="#1e2e60"/>
<path d="M134.3 187L136.2 190.4L132.4 190.4Z" fill="#1e2e60"/>
<path d="M134.3 206.8L136.2 210.2L132.4 210.2Z" fill="#1e2e60"/>
<path d="M130.8 211.5L132.7 214.9L128.9 214.9Z" fill="#1e2e60"/>
<path d="M137.8 211.5L139.7 214.9L135.9 214.9Z" fill="#1e2e60"/>
<line x1="128.3" y1="200" x2="140.3" y2="200" stroke="#111" stroke-width="1.4" />
<line x1="151.9" y1="218.9" x2="151.9" y2="221.7" stroke="#111" stroke-width="1.1" />
<text x="151.9" y="231" font-size="6.6" fill="#a8609a" text-anchor="middle" font-weight="normal" >3</text>
<line x1="151.9" y1="165.5" x2="151.9" y2="218.9" stroke="#c01874" stroke-width="1.1" />
<line x1="148.7" y1="165.5" x2="155.1" y2="165.5" stroke="#c01874" stroke-width="1.1" />
<line x1="148.7" y1="218.9" x2="155.1" y2="218.9" stroke="#c01874" stroke-width="1.1" />
<path d="M151.9 148.5L153.8 151.9L150 151.9Z" fill="#c01874"/>
<path d="M151.9 177.3L153.8 180.7L150 180.7Z" fill="#c01874"/>
<path d="M149.9 215L151.8 218.4L148 218.4Z" fill="#c01874"/>
<path d="M151.9 215L153.8 218.4L150 218.4Z" fill="#c01874"/>
<path d="M153.9 215L155.8 218.4L152 218.4Z" fill="#c01874"/>
<line x1="145.9" y1="194.4" x2="157.9" y2="194.4" stroke="#111" stroke-width="1.4" />
<line x1="169.5" y1="218.9" x2="169.5" y2="221.7" stroke="#111" stroke-width="1.1" />
<text x="169.5" y="231" font-size="6.6" fill="#6e4c5a" text-anchor="middle" font-weight="normal" >4</text>
<line x1="169.5" y1="163.5" x2="169.5" y2="218.9" stroke="#921a3a" stroke-width="1.1" />
<line x1="166.3" y1="163.5" x2="172.7" y2="163.5" stroke="#921a3a" stroke-width="1.1" />
<line x1="166.3" y1="218.9" x2="172.7" y2="218.9" stroke="#921a3a" stroke-width="1.1" />
<path d="M169.5 145.8L171.4 149.2L167.6 149.2Z" fill="#921a3a"/>
<path d="M169.5 175.3L171.4 178.7L167.6 178.7Z" fill="#921a3a"/>
<path d="M166 211.4L167.9 214.8L164.1 214.8Z" fill="#921a3a"/>
<path d="M169.5 215L171.4 218.4L167.6 218.4Z" fill="#921a3a"/>
<path d="M172.5 215L174.4 218.4L170.6 218.4Z" fill="#921a3a"/>
<line x1="163.5" y1="194.8" x2="175.5" y2="194.8" stroke="#111" stroke-width="1.4" />
<line x1="187.1" y1="218.9" x2="187.1" y2="221.7" stroke="#111" stroke-width="1.1" />
<text x="187.1" y="231" font-size="6.6" fill="#959d88" text-anchor="middle" font-weight="normal" >1</text>
<line x1="187.1" y1="213.3" x2="187.1" y2="218.9" stroke="#66ac40" stroke-width="1.1" />
<line x1="183.9" y1="213.3" x2="190.3" y2="213.3" stroke="#66ac40" stroke-width="1.1" />
<line x1="183.9" y1="218.9" x2="190.3" y2="218.9" stroke="#66ac40" stroke-width="1.1" />
<circle cx="187.1" cy="206.1" r="1.6" fill="#66ac40"/>
<circle cx="184.1" cy="215" r="1.6" fill="#66ac40"/>
<circle cx="190.1" cy="215" r="1.6" fill="#66ac40"/>
<circle cx="187.1" cy="217" r="1.6" fill="#66ac40"/>
<line x1="181.1" y1="217" x2="193.1" y2="217" stroke="#111" stroke-width="1.4" />
<line x1="204.7" y1="218.9" x2="204.7" y2="221.7" stroke="#111" stroke-width="1.1" />
<text x="204.7" y="231" font-size="6.6" fill="#4e5262" text-anchor="middle" font-weight="normal" >2</text>
<line x1="204.7" y1="197.9" x2="204.7" y2="218.9" stroke="#1e2e60" stroke-width="1.1" />
<line x1="201.5" y1="197.9" x2="207.9" y2="197.9" stroke="#1e2e60" stroke-width="1.1" />
<line x1="201.5" y1="218.9" x2="207.9" y2="218.9" stroke="#1e2e60" stroke-width="1.1" />
<circle cx="204.7" cy="178.7" r="1.6" fill="#1e2e60"/>
<circle cx="201.7" cy="200" r="1.6" fill="#1e2e60"/>
<circle cx="206.7" cy="204" r="1.6" fill="#1e2e60"/>
<circle cx="200.7" cy="208" r="1.6" fill="#1e2e60"/>
<circle cx="208.7" cy="208" r="1.6" fill="#1e2e60"/>
<circle cx="204.7" cy="212" r="1.6" fill="#1e2e60"/>
<circle cx="202.7" cy="216" r="1.6" fill="#1e2e60"/>
<circle cx="206.7" cy="217" r="1.6" fill="#1e2e60"/>
<line x1="198.7" y1="209.6" x2="210.7" y2="209.6" stroke="#111" stroke-width="1.4" />
<line x1="222.3" y1="218.9" x2="222.3" y2="221.7" stroke="#111" stroke-width="1.1" />
<text x="222.3" y="231" font-size="6.6" fill="#a8609a" text-anchor="middle" font-weight="normal" >3</text>
<line x1="222.3" y1="200.6" x2="222.3" y2="218" stroke="#c01874" stroke-width="1.1" />
<line x1="219.1" y1="200.6" x2="225.5" y2="200.6" stroke="#c01874" stroke-width="1.1" />
<line x1="219.1" y1="218" x2="225.5" y2="218" stroke="#c01874" stroke-width="1.1" />
<circle cx="219.3" cy="200" r="1.6" fill="#c01874"/>
<circle cx="225.3" cy="201" r="1.6" fill="#c01874"/>
<circle cx="219.3" cy="205" r="1.6" fill="#c01874"/>
<circle cx="224.3" cy="206" r="1.6" fill="#c01874"/>
<circle cx="222.3" cy="210" r="1.6" fill="#c01874"/>
<circle cx="219.3" cy="212" r="1.6" fill="#c01874"/>
<circle cx="225.3" cy="213" r="1.6" fill="#c01874"/>
<circle cx="222.3" cy="216" r="1.6" fill="#c01874"/>
<line x1="216.3" y1="208.8" x2="228.3" y2="208.8" stroke="#111" stroke-width="1.4" />
<line x1="239.9" y1="218.9" x2="239.9" y2="221.7" stroke="#111" stroke-width="1.1" />
<text x="239.9" y="231" font-size="6.6" fill="#6e4c5a" text-anchor="middle" font-weight="normal" >4</text>
<line x1="239.9" y1="202" x2="239.9" y2="218" stroke="#921a3a" stroke-width="1.1" />
<line x1="236.7" y1="202" x2="243.1" y2="202" stroke="#921a3a" stroke-width="1.1" />
<line x1="236.7" y1="218" x2="243.1" y2="218" stroke="#921a3a" stroke-width="1.1" />
<circle cx="236.9" cy="200" r="1.6" fill="#921a3a"/>
<circle cx="242.9" cy="200" r="1.6" fill="#921a3a"/>
<circle cx="239.9" cy="203" r="1.6" fill="#921a3a"/>
<circle cx="237.9" cy="208" r="1.6" fill="#921a3a"/>
<circle cx="241.9" cy="209" r="1.6" fill="#921a3a"/>
<circle cx="239.9" cy="213" r="1.6" fill="#921a3a"/>
<circle cx="236.9" cy="215" r="1.6" fill="#921a3a"/>
<circle cx="242.9" cy="215" r="1.6" fill="#921a3a"/>
<line x1="233.9" y1="210.3" x2="245.9" y2="210.3" stroke="#111" stroke-width="1.4" />
<line x1="48.4" y1="151.1" x2="81.5" y2="151.1" stroke="#111" stroke-width="1.3" />
<text x="65.1" y="151.07" font-size="5.4" fill="#000" text-anchor="middle" font-weight="bold" >*</text>
<line x1="48.4" y1="158.3" x2="63.9" y2="158.3" stroke="#111" stroke-width="1.3" />
<text x="56.2" y="156.4" font-size="6" fill="#222" text-anchor="middle" font-weight="normal" >0.08</text>
<line x1="120.3" y1="151.4" x2="134.8" y2="151.4" stroke="#111" stroke-width="1.3" />
<text x="127.6" y="149.6" font-size="6" fill="#222" text-anchor="middle" font-weight="normal" >0.05</text>
<line x1="189.8" y1="149.1" x2="222" y2="149.1" stroke="#111" stroke-width="1.3" />
<text x="205.9" y="148.77" font-size="5.4" fill="#000" text-anchor="middle" font-weight="bold" >**</text>
<line x1="189.8" y1="156.7" x2="204.9" y2="156.7" stroke="#111" stroke-width="1.3" />
<text x="197.3" y="156.47" font-size="5.4" fill="#000" text-anchor="middle" font-weight="bold" >**</text>
<line x1="189.8" y1="164.2" x2="240.6" y2="164.2" stroke="#111" stroke-width="1.3" />
<text x="214.8" y="163.97" font-size="5.4" fill="#000" text-anchor="middle" font-weight="bold" >**</text>
<text transform="translate(275.5,182.1) rotate(-90)" x="0" y="0" font-size="8.6" fill="#1a1a1a" font-weight="bold" text-anchor="middle" textLength="78.9" lengthAdjust="spacingAndGlyphs">% of KIR2DL3 positives cells</text>
<text x="333.1" y="141" font-size="6.6" fill="#222" text-anchor="middle" font-weight="normal" >Nandi</text>
<text x="404.2" y="141" font-size="6.6" fill="#222" text-anchor="middle" font-weight="normal" >Kisumu</text>
<text x="472.5" y="141" font-size="6.6" fill="#222" text-anchor="middle" font-weight="normal" >BL</text>
<line x1="368.6" y1="149" x2="368.6" y2="218.9" stroke="#111" stroke-width="1.4" stroke-dasharray="1.5 1.3"/>
<line x1="439.2" y1="149" x2="439.2" y2="218.9" stroke="#111" stroke-width="1.4" stroke-dasharray="1.5 1.3"/>
<line x1="295.3" y1="145.6" x2="295.3" y2="219.5" stroke="#111" stroke-width="1.3" />
<line x1="294.7" y1="218.9" x2="512.3" y2="218.9" stroke="#111" stroke-width="1.6" />
<line x1="292.3" y1="218.9" x2="295.3" y2="218.9" stroke="#111" stroke-width="1.1" />
<text x="288.5" y="221.1" font-size="6.4" fill="#222" text-anchor="end" font-weight="normal" >0</text>
<line x1="292.3" y1="205.56" x2="295.3" y2="205.56" stroke="#111" stroke-width="1.1" />
<text x="288.5" y="207.76" font-size="6.4" fill="#222" text-anchor="end" font-weight="normal" >10</text>
<line x1="292.3" y1="192.22" x2="295.3" y2="192.22" stroke="#111" stroke-width="1.1" />
<text x="288.5" y="194.42" font-size="6.4" fill="#222" text-anchor="end" font-weight="normal" >20</text>
<line x1="292.3" y1="178.88" x2="295.3" y2="178.88" stroke="#111" stroke-width="1.1" />
<text x="288.5" y="181.08" font-size="6.4" fill="#222" text-anchor="end" font-weight="normal" >30</text>
<line x1="292.3" y1="165.54" x2="295.3" y2="165.54" stroke="#111" stroke-width="1.1" />
<text x="288.5" y="167.74" font-size="6.4" fill="#222" text-anchor="end" font-weight="normal" >40</text>
<line x1="292.3" y1="152.2" x2="295.3" y2="152.2" stroke="#111" stroke-width="1.1" />
<text x="288.5" y="154.4" font-size="6.4" fill="#222" text-anchor="end" font-weight="normal" >50</text>
<line x1="307" y1="218.9" x2="307" y2="221.7" stroke="#111" stroke-width="1.1" />
<text x="307" y="231.3" font-size="6.6" fill="#959d88" text-anchor="middle" font-weight="normal" >1</text>
<line x1="307" y1="215" x2="307" y2="218.9" stroke="#66ac40" stroke-width="1.1" />
<line x1="303.8" y1="215" x2="310.2" y2="215" stroke="#66ac40" stroke-width="1.1" />
<line x1="303.8" y1="218.9" x2="310.2" y2="218.9" stroke="#66ac40" stroke-width="1.1" />
<path d="M303.5 217.2L306.06 212.61L300.94 212.61Z" fill="#66ac40"/>
<path d="M310.5 217.2L313.06 212.61L307.94 212.61Z" fill="#66ac40"/>
<path d="M307 219.2L309.56 214.61L304.44 214.61Z" fill="#66ac40"/>
<path d="M305.5 220.2L308.06 215.61L302.94 215.61Z" fill="#66ac40"/>
<path d="M308.5 220.2L311.06 215.61L305.94 215.61Z" fill="#66ac40"/>
<line x1="301" y1="217.7" x2="313" y2="217.7" stroke="#111" stroke-width="1.4" />
<line x1="324.6" y1="218.9" x2="324.6" y2="221.7" stroke="#111" stroke-width="1.1" />
<text x="324.6" y="231.3" font-size="6.6" fill="#4e5262" text-anchor="middle" font-weight="normal" >2</text>
<line x1="324.6" y1="199.3" x2="324.6" y2="218.9" stroke="#1e2e60" stroke-width="1.1" />
<line x1="321.4" y1="199.3" x2="327.8" y2="199.3" stroke="#1e2e60" stroke-width="1.1" />
<line x1="321.4" y1="218.9" x2="327.8" y2="218.9" stroke="#1e2e60" stroke-width="1.1" />
<circle cx="324.6" cy="188.2" r="1.6" fill="#1e2e60"/>
<circle cx="322.3" cy="205.1" r="1.6" fill="#1e2e60"/>
<circle cx="326.8" cy="206.8" r="1.6" fill="#1e2e60"/>
<circle cx="322.6" cy="218" r="1.6" fill="#1e2e60"/>
<circle cx="326.6" cy="218" r="1.6" fill="#1e2e60"/>
<line x1="318.6" y1="210.9" x2="330.6" y2="210.9" stroke="#111" stroke-width="1.4" />
<line x1="342.2" y1="218.9" x2="342.2" y2="221.7" stroke="#111" stroke-width="1.1" />
<text x="342.2" y="231.3" font-size="6.6" fill="#a8609a" text-anchor="middle" font-weight="normal" >3</text>
<line x1="342.2" y1="192.3" x2="342.2" y2="218.9" stroke="#c01874" stroke-width="1.1" />
<line x1="339" y1="192.3" x2="345.4" y2="192.3" stroke="#c01874" stroke-width="1.1" />
<line x1="339" y1="218.9" x2="345.4" y2="218.9" stroke="#c01874" stroke-width="1.1" />
<circle cx="342.2" cy="184.1" r="1.6" fill="#c01874"/>
<circle cx="340" cy="194.8" r="1.6" fill="#c01874"/>
<circle cx="344.4" cy="194.8" r="1.6" fill="#c01874"/>
<circle cx="339.2" cy="218" r="1.6" fill="#c01874"/>
<circle cx="342.2" cy="218" r="1.6" fill="#c01874"/>
<circle cx="345.2" cy="218" r="1.6" fill="#c01874"/>
<line x1="336.2" y1="207.2" x2="348.2" y2="207.2" stroke="#111" stroke-width="1.4" />
<line x1="359.8" y1="218.9" x2="359.8" y2="221.7" stroke="#111" stroke-width="1.1" />
<text x="359.8" y="231.3" font-size="6.6" fill="#6e4c5a" text-anchor="middle" font-weight="normal" >4</text>
<line x1="359.8" y1="195.2" x2="359.8" y2="218.9" stroke="#921a3a" stroke-width="1.1" />
<line x1="356.6" y1="195.2" x2="363" y2="195.2" stroke="#921a3a" stroke-width="1.1" />
<line x1="356.6" y1="218.9" x2="363" y2="218.9" stroke="#921a3a" stroke-width="1.1" />
<circle cx="357" cy="191" r="1.6" fill="#921a3a"/>
<circle cx="362" cy="189.6" r="1.6" fill="#921a3a"/>
<circle cx="359.8" cy="204" r="1.6" fill="#921a3a"/>
<circle cx="356.8" cy="218" r="1.6" fill="#921a3a"/>
<circle cx="359.8" cy="218" r="1.6" fill="#921a3a"/>
<circle cx="362.8" cy="218" r="1.6" fill="#921a3a"/>
<line x1="353.8" y1="208.2" x2="365.8" y2="208.2" stroke="#111" stroke-width="1.4" />
<line x1="377.4" y1="218.9" x2="377.4" y2="221.7" stroke="#111" stroke-width="1.1" />
<text x="377.4" y="231.3" font-size="6.6" fill="#959d88" text-anchor="middle" font-weight="normal" >1</text>
<line x1="377.4" y1="202.6" x2="377.4" y2="218.9" stroke="#66ac40" stroke-width="1.1" />
<line x1="374.2" y1="202.6" x2="380.6" y2="202.6" stroke="#66ac40" stroke-width="1.1" />
<line x1="374.2" y1="218.9" x2="380.6" y2="218.9" stroke="#66ac40" stroke-width="1.1" />
<path d="M377.4 192.8L379.3 196.2L375.5 196.2Z" fill="#66ac40"/>
<path d="M375.4 215L377.3 218.4L373.5 218.4Z" fill="#66ac40"/>
<path d="M379.4 215L381.3 218.4L377.5 218.4Z" fill="#66ac40"/>
<line x1="371.4" y1="212.9" x2="383.4" y2="212.9" stroke="#111" stroke-width="1.4" />
<line x1="395" y1="218.9" x2="395" y2="221.7" stroke="#111" stroke-width="1.1" />
<text x="395" y="231.3" font-size="6.6" fill="#4e5262" text-anchor="middle" font-weight="normal" >2</text>
<line x1="395" y1="167.6" x2="395" y2="218.9" stroke="#1e2e60" stroke-width="1.1" />
<line x1="391.8" y1="167.6" x2="398.2" y2="167.6" stroke="#1e2e60" stroke-width="1.1" />
<line x1="391.8" y1="218.9" x2="398.2" y2="218.9" stroke="#1e2e60" stroke-width="1.1" />
<path d="M395 148.5L396.9 151.9L393.1 151.9Z" fill="#1e2e60"/>
<path d="M395 188.3L396.9 191.7L393.1 191.7Z" fill="#1e2e60"/>
<path d="M395 200L396.9 203.4L393.1 203.4Z" fill="#1e2e60"/>
<path d="M395 216L396.9 219.4L393.1 219.4Z" fill="#1e2e60"/>
<line x1="389" y1="195.8" x2="401" y2="195.8" stroke="#111" stroke-width="1.4" />
<line x1="412.6" y1="218.9" x2="412.6" y2="221.7" stroke="#111" stroke-width="1.1" />
<text x="412.6" y="231.3" font-size="6.6" fill="#a8609a" text-anchor="middle" font-weight="normal" >3</text>
<line x1="412.6" y1="179.3" x2="412.6" y2="218.9" stroke="#c01874" stroke-width="1.1" />
<line x1="409.4" y1="179.3" x2="415.8" y2="179.3" stroke="#c01874" stroke-width="1.1" />
<line x1="409.4" y1="218.9" x2="415.8" y2="218.9" stroke="#c01874" stroke-width="1.1" />
<path d="M412.6 173.2L414.5 176.6L410.7 176.6Z" fill="#c01874"/>
<path d="M412.6 180L414.5 183.4L410.7 183.4Z" fill="#c01874"/>
<path d="M412.6 209.7L414.5 213.1L410.7 213.1Z" fill="#c01874"/>
<path d="M410.6 216L412.5 219.4L408.7 219.4Z" fill="#c01874"/>
<path d="M414.6 216L416.5 219.4L412.7 219.4Z" fill="#c01874"/>
<line x1="406.6" y1="200.6" x2="418.6" y2="200.6" stroke="#111" stroke-width="1.4" />
<line x1="430.2" y1="218.9" x2="430.2" y2="221.7" stroke="#111" stroke-width="1.1" />
<text x="430.2" y="231.3" font-size="6.6" fill="#6e4c5a" text-anchor="middle" font-weight="normal" >4</text>
<line x1="430.2" y1="179.3" x2="430.2" y2="218.9" stroke="#921a3a" stroke-width="1.1" />
<line x1="427" y1="179.3" x2="433.4" y2="179.3" stroke="#921a3a" stroke-width="1.1" />
<line x1="427" y1="218.9" x2="433.4" y2="218.9" stroke="#921a3a" stroke-width="1.1" />
<path d="M430.2 173.2L432.1 176.6L428.3 176.6Z" fill="#921a3a"/>
<path d="M430.2 180L432.1 183.4L428.3 183.4Z" fill="#921a3a"/>
<path d="M430.2 208.9L432.1 212.3L428.3 212.3Z" fill="#921a3a"/>
<path d="M428.2 216L430.1 219.4L426.3 219.4Z" fill="#921a3a"/>
<path d="M432.2 216L434.1 219.4L430.3 219.4Z" fill="#921a3a"/>
<line x1="424.2" y1="201" x2="436.2" y2="201" stroke="#111" stroke-width="1.4" />
<line x1="447.8" y1="218.9" x2="447.8" y2="221.7" stroke="#111" stroke-width="1.1" />
<text x="447.8" y="231.3" font-size="6.6" fill="#959d88" text-anchor="middle" font-weight="normal" >1</text>
<line x1="447.8" y1="213.8" x2="447.8" y2="218.9" stroke="#66ac40" stroke-width="1.1" />
<line x1="444.6" y1="213.8" x2="451" y2="213.8" stroke="#66ac40" stroke-width="1.1" />
<line x1="444.6" y1="218.9" x2="451" y2="218.9" stroke="#66ac40" stroke-width="1.1" />
<circle cx="447.8" cy="208.2" r="1.6" fill="#66ac40"/>
<circle cx="444.8" cy="215" r="1.6" fill="#66ac40"/>
<circle cx="450.8" cy="215" r="1.6" fill="#66ac40"/>
<circle cx="447.8" cy="217" r="1.6" fill="#66ac40"/>
<line x1="441.8" y1="216.4" x2="453.8" y2="216.4" stroke="#111" stroke-width="1.4" />
<line x1="465.4" y1="218.9" x2="465.4" y2="221.7" stroke="#111" stroke-width="1.1" />
<text x="465.4" y="231.3" font-size="6.6" fill="#4e5262" text-anchor="middle" font-weight="normal" >2</text>
<line x1="465.4" y1="202" x2="465.4" y2="218.9" stroke="#1e2e60" stroke-width="1.1" />
<line x1="462.2" y1="202" x2="468.6" y2="202" stroke="#1e2e60" stroke-width="1.1" />
<line x1="462.2" y1="218.9" x2="468.6" y2="218.9" stroke="#1e2e60" stroke-width="1.1" />
<circle cx="463" cy="195.2" r="1.6" fill="#1e2e60"/>
<circle cx="468" cy="196.4" r="1.6" fill="#1e2e60"/>
<circle cx="465.4" cy="206" r="1.6" fill="#1e2e60"/>
<circle cx="467.4" cy="212" r="1.6" fill="#1e2e60"/>
<circle cx="463.4" cy="216" r="1.6" fill="#1e2e60"/>
<circle cx="467.4" cy="217" r="1.6" fill="#1e2e60"/>
<line x1="459.4" y1="211.7" x2="471.4" y2="211.7" stroke="#111" stroke-width="1.4" />
<line x1="483" y1="218.9" x2="483" y2="221.7" stroke="#111" stroke-width="1.1" />
<text x="483" y="231.3" font-size="6.6" fill="#a8609a" text-anchor="middle" font-weight="normal" >3</text>
<line x1="483" y1="200" x2="483" y2="218.9" stroke="#c01874" stroke-width="1.1" />
<line x1="479.8" y1="200" x2="486.2" y2="200" stroke="#c01874" stroke-width="1.1" />
<line x1="479.8" y1="218.9" x2="486.2" y2="218.9" stroke="#c01874" stroke-width="1.1" />
<circle cx="483" cy="184.9" r="1.6" fill="#c01874"/>
<circle cx="486" cy="206.1" r="1.6" fill="#c01874"/>
<circle cx="480" cy="212" r="1.6" fill="#c01874"/>
<circle cx="483" cy="216" r="1.6" fill="#c01874"/>
<circle cx="481" cy="218" r="1.6" fill="#c01874"/>
<circle cx="485" cy="218" r="1.6" fill="#c01874"/>
<line x1="477" y1="210.3" x2="489" y2="210.3" stroke="#111" stroke-width="1.4" />
<line x1="500.6" y1="218.9" x2="500.6" y2="221.7" stroke="#111" stroke-width="1.1" />
<text x="500.6" y="231.3" font-size="6.6" fill="#6e4c5a" text-anchor="middle" font-weight="normal" >4</text>
<line x1="500.6" y1="202" x2="500.6" y2="218.9" stroke="#921a3a" stroke-width="1.1" />
<line x1="497.4" y1="202" x2="503.8" y2="202" stroke="#921a3a" stroke-width="1.1" />
<line x1="497.4" y1="218.9" x2="503.8" y2="218.9" stroke="#921a3a" stroke-width="1.1" />
<circle cx="500.6" cy="191.7" r="1.6" fill="#921a3a"/>
<circle cx="500.6" cy="198.5" r="1.6" fill="#921a3a"/>
<circle cx="498.6" cy="207" r="1.6" fill="#921a3a"/>
<circle cx="502.6" cy="210" r="1.6" fill="#921a3a"/>
<circle cx="497.6" cy="214" r="1.6" fill="#921a3a"/>
<circle cx="502.6" cy="216" r="1.6" fill="#921a3a"/>
<circle cx="500.6" cy="218" r="1.6" fill="#921a3a"/>
<line x1="494.6" y1="211.7" x2="506.6" y2="211.7" stroke="#111" stroke-width="1.4" />
<text transform="translate(15,297.6) rotate(-90)" x="0" y="0" font-size="8.6" fill="#1a1a1a" font-weight="bold" text-anchor="middle" textLength="78.9" lengthAdjust="spacingAndGlyphs">% of KIR3DL1 positives cells</text>
<text x="72.7" y="254.9" font-size="6.6" fill="#222" text-anchor="middle" font-weight="normal" >Nandi</text>
<text x="142.7" y="254.9" font-size="6.6" fill="#222" text-anchor="middle" font-weight="normal" >Kisumu</text>
<text x="212.1" y="254.9" font-size="6.6" fill="#222" text-anchor="middle" font-weight="normal" >BL</text>
<line x1="108" y1="265.5" x2="108" y2="336" stroke="#111" stroke-width="1.4" stroke-dasharray="1.5 1.3"/>
<line x1="178.2" y1="265.5" x2="178.2" y2="336" stroke="#111" stroke-width="1.4" stroke-dasharray="1.5 1.3"/>
<line x1="34.6" y1="259.4" x2="34.6" y2="336.6" stroke="#111" stroke-width="1.3" />
<line x1="34" y1="336" x2="252" y2="336" stroke="#111" stroke-width="1.6" />
<line x1="31.6" y1="336" x2="34.6" y2="336" stroke="#111" stroke-width="1.1" />
<text x="27.8" y="338.2" font-size="6.4" fill="#222" text-anchor="end" font-weight="normal" >0</text>
<line x1="31.6" y1="317.57" x2="34.6" y2="317.57" stroke="#111" stroke-width="1.1" />
<text x="27.8" y="319.77" font-size="6.4" fill="#222" text-anchor="end" font-weight="normal" >10</text>
<line x1="31.6" y1="299.15" x2="34.6" y2="299.15" stroke="#111" stroke-width="1.1" />
<text x="27.8" y="301.35" font-size="6.4" fill="#222" text-anchor="end" font-weight="normal" >20</text>
<line x1="31.6" y1="280.73" x2="34.6" y2="280.73" stroke="#111" stroke-width="1.1" />
<text x="27.8" y="282.93" font-size="6.4" fill="#222" text-anchor="end" font-weight="normal" >30</text>
<line x1="31.6" y1="262.3" x2="34.6" y2="262.3" stroke="#111" stroke-width="1.1" />
<text x="27.8" y="264.5" font-size="6.4" fill="#222" text-anchor="end" font-weight="normal" >40</text>
<line x1="46.3" y1="336" x2="46.3" y2="338.8" stroke="#111" stroke-width="1.1" />
<text x="46.3" y="348.6" font-size="6.6" fill="#959d88" text-anchor="middle" font-weight="normal" >1</text>
<line x1="46.3" y1="329" x2="46.3" y2="334" stroke="#66ac40" stroke-width="1.1" />
<line x1="43.1" y1="329" x2="49.5" y2="329" stroke="#66ac40" stroke-width="1.1" />
<line x1="43.1" y1="334" x2="49.5" y2="334" stroke="#66ac40" stroke-width="1.1" />
<path d="M46.3 329L48.86 324.41L43.73 324.41Z" fill="#66ac40"/>
<path d="M43.8 332.2L46.36 327.61L41.23 327.61Z" fill="#66ac40"/>
<path d="M48.8 332.2L51.36 327.61L46.23 327.61Z" fill="#66ac40"/>
<path d="M46.3 333.7L48.86 329.11L43.73 329.11Z" fill="#66ac40"/>
<path d="M43.8 335.2L46.36 330.61L41.23 330.61Z" fill="#66ac40"/>
<path d="M48.8 335.2L51.36 330.61L46.23 330.61Z" fill="#66ac40"/>
<path d="M46.3 337L48.86 332.41L43.73 332.41Z" fill="#66ac40"/>
<line x1="40.3" y1="331.5" x2="52.3" y2="331.5" stroke="#111" stroke-width="1.4" />
<line x1="63.9" y1="336" x2="63.9" y2="338.8" stroke="#111" stroke-width="1.1" />
<text x="63.9" y="348.6" font-size="6.6" fill="#4e5262" text-anchor="middle" font-weight="normal" >2</text>
<line x1="63.9" y1="312.3" x2="63.9" y2="324.6" stroke="#1e2e60" stroke-width="1.1" />
<line x1="60.7" y1="312.3" x2="67.1" y2="312.3" stroke="#1e2e60" stroke-width="1.1" />
<line x1="60.7" y1="324.6" x2="67.1" y2="324.6" stroke="#1e2e60" stroke-width="1.1" />
<circle cx="63.9" cy="307.3" r="1.6" fill="#1e2e60"/>
<circle cx="63.9" cy="315.6" r="1.6" fill="#1e2e60"/>
<circle cx="60.7" cy="320" r="1.6" fill="#1e2e60"/>
<circle cx="63.9" cy="325" r="1.6" fill="#1e2e60"/>
<circle cx="66" cy="330" r="1.6" fill="#1e2e60"/>
<circle cx="62" cy="328.8" r="1.6" fill="#1e2e60"/>
<circle cx="60.9" cy="330" r="1.6" fill="#1e2e60"/>
<line x1="57.9" y1="320.1" x2="69.9" y2="320.1" stroke="#111" stroke-width="1.4" />
<line x1="81.5" y1="336" x2="81.5" y2="338.8" stroke="#111" stroke-width="1.1" />
<text x="81.5" y="348.6" font-size="6.6" fill="#a8609a" text-anchor="middle" font-weight="normal" >3</text>
<line x1="81.5" y1="306.1" x2="81.5" y2="324.6" stroke="#c01874" stroke-width="1.1" />
<line x1="78.3" y1="306.1" x2="84.7" y2="306.1" stroke="#c01874" stroke-width="1.1" />
<line x1="78.3" y1="324.6" x2="84.7" y2="324.6" stroke="#c01874" stroke-width="1.1" />
<circle cx="81.5" cy="295.4" r="1.6" fill="#c01874"/>
<circle cx="78" cy="316.4" r="1.6" fill="#c01874"/>
<circle cx="84" cy="316" r="1.6" fill="#c01874"/>
<circle cx="80" cy="321" r="1.6" fill="#c01874"/>
<circle cx="83" cy="321" r="1.6" fill="#c01874"/>
<circle cx="81.5" cy="323" r="1.6" fill="#c01874"/>
<line x1="75.5" y1="315.6" x2="87.5" y2="315.6" stroke="#111" stroke-width="1.4" />
<line x1="99.1" y1="336" x2="99.1" y2="338.8" stroke="#111" stroke-width="1.1" />
<text x="99.1" y="348.6" font-size="6.6" fill="#6e4c5a" text-anchor="middle" font-weight="normal" >4</text>
<line x1="99.1" y1="318.5" x2="99.1" y2="325.3" stroke="#921a3a" stroke-width="1.1" />
<line x1="95.9" y1="318.5" x2="102.3" y2="318.5" stroke="#921a3a" stroke-width="1.1" />
<line x1="95.9" y1="325.3" x2="102.3" y2="325.3" stroke="#921a3a" stroke-width="1.1" />
<circle cx="97" cy="316" r="1.6" fill="#921a3a"/>
<circle cx="101" cy="316" r="1.6" fill="#921a3a"/>
<circle cx="96.1" cy="318" r="1.6" fill="#921a3a"/>
<circle cx="100.1" cy="321" r="1.6" fill="#921a3a"/>
<circle cx="96.1" cy="327.3" r="1.6" fill="#921a3a"/>
<circle cx="100.1" cy="327.3" r="1.6" fill="#921a3a"/>
<circle cx="103.1" cy="327" r="1.6" fill="#921a3a"/>
<line x1="93.1" y1="322.2" x2="105.1" y2="322.2" stroke="#111" stroke-width="1.4" />
<line x1="116.7" y1="336" x2="116.7" y2="338.8" stroke="#111" stroke-width="1.1" />
<text x="116.7" y="348.6" font-size="6.6" fill="#959d88" text-anchor="middle" font-weight="normal" >1</text>
<line x1="116.7" y1="325.9" x2="116.7" y2="336" stroke="#66ac40" stroke-width="1.1" />
<line x1="113.5" y1="325.9" x2="119.9" y2="325.9" stroke="#66ac40" stroke-width="1.1" />
<line x1="113.5" y1="336" x2="119.9" y2="336" stroke="#66ac40" stroke-width="1.1" />
<path d="M116.7 319.8L118.6 323.2L114.8 323.2Z" fill="#66ac40"/>
<path d="M116.7 325.3L118.6 328.7L114.8 328.7Z" fill="#66ac40"/>
<path d="M118.7 330L120.6 333.4L116.8 333.4Z" fill="#66ac40"/>
<path d="M114.7 332L116.6 335.4L112.8 335.4Z" fill="#66ac40"/>
<line x1="110.7" y1="330" x2="122.7" y2="330" stroke="#111" stroke-width="1.4" />
<line x1="134.3" y1="336" x2="134.3" y2="338.8" stroke="#111" stroke-width="1.1" />
<text x="134.3" y="348.6" font-size="6.6" fill="#4e5262" text-anchor="middle" font-weight="normal" >2</text>
<line x1="134.3" y1="288.1" x2="134.3" y2="325.3" stroke="#1e2e60" stroke-width="1.1" />
<line x1="131.1" y1="288.1" x2="137.5" y2="288.1" stroke="#1e2e60" stroke-width="1.1" />
<line x1="131.1" y1="325.3" x2="137.5" y2="325.3" stroke="#1e2e60" stroke-width="1.1" />
<path d="M134.3 276.5L136.2 279.9L132.4 279.9Z" fill="#1e2e60"/>
<path d="M134.3 306.8L136.2 310.2L132.4 310.2Z" fill="#1e2e60"/>
<path d="M134.3 322.6L136.2 326L132.4 326Z" fill="#1e2e60"/>
<line x1="128.3" y1="306.1" x2="140.3" y2="306.1" stroke="#111" stroke-width="1.4" />
<line x1="151.9" y1="336" x2="151.9" y2="338.8" stroke="#111" stroke-width="1.1" />
<text x="151.9" y="348.6" font-size="6.6" fill="#a8609a" text-anchor="middle" font-weight="normal" >3</text>
<line x1="151.9" y1="303.2" x2="151.9" y2="319.7" stroke="#c01874" stroke-width="1.1" />
<line x1="148.7" y1="303.2" x2="155.1" y2="303.2" stroke="#c01874" stroke-width="1.1" />
<line x1="148.7" y1="319.7" x2="155.1" y2="319.7" stroke="#c01874" stroke-width="1.1" />
<path d="M151.9 295.8L153.8 299.2L150 299.2Z" fill="#c01874"/>
<path d="M151.9 313.6L153.8 317L150 317Z" fill="#c01874"/>
<path d="M148.9 317L150.8 320.4L147 320.4Z" fill="#c01874"/>
<path d="M154.9 317L156.8 320.4L153 320.4Z" fill="#c01874"/>
<line x1="145.9" y1="311.4" x2="157.9" y2="311.4" stroke="#111" stroke-width="1.4" />
<line x1="169.5" y1="336" x2="169.5" y2="338.8" stroke="#111" stroke-width="1.1" />
<text x="169.5" y="348.6" font-size="6.6" fill="#6e4c5a" text-anchor="middle" font-weight="normal" >4</text>
<line x1="169.5" y1="303.6" x2="169.5" y2="321.1" stroke="#921a3a" stroke-width="1.1" />
<line x1="166.3" y1="303.6" x2="172.7" y2="303.6" stroke="#921a3a" stroke-width="1.1" />
<line x1="166.3" y1="321.1" x2="172.7" y2="321.1" stroke="#921a3a" stroke-width="1.1" />
<path d="M169.5 295.4L171.4 298.8L167.6 298.8Z" fill="#921a3a"/>
<path d="M169.5 311.5L171.4 314.9L167.6 314.9Z" fill="#921a3a"/>
<path d="M167 319L168.9 322.4L165.1 322.4Z" fill="#921a3a"/>
<path d="M172 319L173.9 322.4L170.1 322.4Z" fill="#921a3a"/>
<line x1="163.5" y1="312.3" x2="175.5" y2="312.3" stroke="#111" stroke-width="1.4" />
<line x1="187.1" y1="336" x2="187.1" y2="338.8" stroke="#111" stroke-width="1.1" />
<text x="187.1" y="348.6" font-size="6.6" fill="#959d88" text-anchor="middle" font-weight="normal" >1</text>
<line x1="187.1" y1="326.7" x2="187.1" y2="336" stroke="#66ac40" stroke-width="1.1" />
<line x1="183.9" y1="326.7" x2="190.3" y2="326.7" stroke="#66ac40" stroke-width="1.1" />
<line x1="183.9" y1="336" x2="190.3" y2="336" stroke="#66ac40" stroke-width="1.1" />
<circle cx="187.1" cy="319.7" r="1.6" fill="#66ac40"/>
<circle cx="184.1" cy="329" r="1.6" fill="#66ac40"/>
<circle cx="190.1" cy="329" r="1.6" fill="#66ac40"/>
<circle cx="185.1" cy="332" r="1.6" fill="#66ac40"/>
<circle cx="189.1" cy="333" r="1.6" fill="#66ac40"/>
<circle cx="187.1" cy="334" r="1.6" fill="#66ac40"/>
<line x1="181.1" y1="330.8" x2="193.1" y2="330.8" stroke="#111" stroke-width="1.4" />
<line x1="204.7" y1="336" x2="204.7" y2="338.8" stroke="#111" stroke-width="1.1" />
<text x="204.7" y="348.6" font-size="6.6" fill="#4e5262" text-anchor="middle" font-weight="normal" >2</text>
<line x1="204.7" y1="301.5" x2="204.7" y2="328.8" stroke="#1e2e60" stroke-width="1.1" />
<line x1="201.5" y1="301.5" x2="207.9" y2="301.5" stroke="#1e2e60" stroke-width="1.1" />
<line x1="201.5" y1="328.8" x2="207.9" y2="328.8" stroke="#1e2e60" stroke-width="1.1" />
<circle cx="204.7" cy="287.5" r="1.6" fill="#1e2e60"/>
<circle cx="202.2" cy="303" r="1.6" fill="#1e2e60"/>
<circle cx="207.2" cy="303" r="1.6" fill="#1e2e60"/>
<circle cx="204.7" cy="320" r="1.6" fill="#1e2e60"/>
<circle cx="201.2" cy="328" r="1.6" fill="#1e2e60"/>
<circle cx="206.2" cy="330" r="1.6" fill="#1e2e60"/>
<circle cx="204.7" cy="333" r="1.6" fill="#1e2e60"/>
<line x1="198.7" y1="315.6" x2="210.7" y2="315.6" stroke="#111" stroke-width="1.4" />
<line x1="222.3" y1="336" x2="222.3" y2="338.8" stroke="#111" stroke-width="1.1" />
<text x="222.3" y="348.6" font-size="6.6" fill="#a8609a" text-anchor="middle" font-weight="normal" >3</text>
<line x1="222.3" y1="283" x2="222.3" y2="317" stroke="#c01874" stroke-width="1.1" />
<line x1="219.1" y1="283" x2="225.5" y2="283" stroke="#c01874" stroke-width="1.1" />
<line x1="219.1" y1="317" x2="225.5" y2="317" stroke="#c01874" stroke-width="1.1" />
<circle cx="222.3" cy="271.4" r="1.6" fill="#c01874"/>
<circle cx="222.3" cy="277.8" r="1.6" fill="#c01874"/>
<circle cx="219.3" cy="290" r="1.6" fill="#c01874"/>
<circle cx="225.3" cy="292" r="1.6" fill="#c01874"/>
<circle cx="222.3" cy="300" r="1.6" fill="#c01874"/>
<circle cx="220.3" cy="310" r="1.6" fill="#c01874"/>
<circle cx="224.3" cy="318" r="1.6" fill="#c01874"/>
<circle cx="221.3" cy="324" r="1.6" fill="#c01874"/>
<circle cx="222.3" cy="328.4" r="1.6" fill="#c01874"/>
<line x1="216.3" y1="301.5" x2="228.3" y2="301.5" stroke="#111" stroke-width="1.4" />
<line x1="239.9" y1="336" x2="239.9" y2="338.8" stroke="#111" stroke-width="1.1" />
<text x="239.9" y="348.6" font-size="6.6" fill="#6e4c5a" text-anchor="middle" font-weight="normal" >4</text>
<line x1="239.9" y1="275.8" x2="239.9" y2="316.4" stroke="#921a3a" stroke-width="1.1" />
<line x1="236.7" y1="275.8" x2="243.1" y2="275.8" stroke="#921a3a" stroke-width="1.1" />
<line x1="236.7" y1="316.4" x2="243.1" y2="316.4" stroke="#921a3a" stroke-width="1.1" />
<circle cx="239.9" cy="264.4" r="1.6" fill="#921a3a"/>
<circle cx="239.9" cy="277.8" r="1.6" fill="#921a3a"/>
<circle cx="237.9" cy="289" r="1.6" fill="#921a3a"/>
<circle cx="242.9" cy="289" r="1.6" fill="#921a3a"/>
<circle cx="239.9" cy="297" r="1.6" fill="#921a3a"/>
<circle cx="240.9" cy="300" r="1.6" fill="#921a3a"/>
<circle cx="239.9" cy="308" r="1.6" fill="#921a3a"/>
<circle cx="239.9" cy="323.2" r="1.6" fill="#921a3a"/>
<circle cx="239.9" cy="328.4" r="1.6" fill="#921a3a"/>
<line x1="233.9" y1="295.8" x2="245.9" y2="295.8" stroke="#111" stroke-width="1.4" />
<line x1="46.3" y1="261.3" x2="79.3" y2="261.3" stroke="#111" stroke-width="1.3" />
<text x="62.8" y="260.57" font-size="5.4" fill="#000" text-anchor="middle" font-weight="bold" >***</text>
<line x1="46.3" y1="266.8" x2="61.4" y2="266.8" stroke="#111" stroke-width="1.3" />
<text x="54" y="266.37" font-size="5.4" fill="#000" text-anchor="middle" font-weight="bold" >**</text>
<line x1="46.3" y1="272.5" x2="97.3" y2="272.5" stroke="#111" stroke-width="1.3" />
<text x="71.9" y="272.17" font-size="5.4" fill="#000" text-anchor="middle" font-weight="bold" >**</text>
<line x1="116.8" y1="261.2" x2="149.3" y2="261.2" stroke="#111" stroke-width="1.3" />
<text x="133.2" y="260.77" font-size="5.4" fill="#000" text-anchor="middle" font-weight="bold" >**</text>
<line x1="116.8" y1="266.6" x2="132.8" y2="266.6" stroke="#111" stroke-width="1.3" />
<text x="124.5" y="266.47" font-size="5.4" fill="#000" text-anchor="middle" font-weight="bold" >*</text>
<line x1="116.8" y1="272.5" x2="167.9" y2="272.5" stroke="#111" stroke-width="1.3" />
<text x="142.2" y="272.17" font-size="5.4" fill="#000" text-anchor="middle" font-weight="bold" >**</text>
<line x1="188.4" y1="261.1" x2="220.4" y2="261.1" stroke="#111" stroke-width="1.3" />
<text x="203.9" y="260.77" font-size="5.4" fill="#000" text-anchor="middle" font-weight="bold" >****</text>
<line x1="188.4" y1="266.6" x2="202.8" y2="266.6" stroke="#111" stroke-width="1.3" />
<text x="195.6" y="266.37" font-size="5.4" fill="#000" text-anchor="middle" font-weight="bold" >***</text>
<line x1="205.9" y1="266.6" x2="238.9" y2="266.6" stroke="#111" stroke-width="1.3" />
<text x="222.5" y="266.77" font-size="5.4" fill="#000" text-anchor="middle" font-weight="bold" >*</text>
<line x1="188.4" y1="272.4" x2="238.9" y2="272.4" stroke="#111" stroke-width="1.3" />
<text x="213.3" y="272.37" font-size="5.4" fill="#000" text-anchor="middle" font-weight="bold" >****</text>
<text transform="translate(15,426.9) rotate(-90)" x="0" y="0" font-size="8.6" fill="#1a1a1a" font-weight="bold" text-anchor="middle" textLength="76.1" lengthAdjust="spacingAndGlyphs">% of perforin positives cells</text>
<text x="73.4" y="371.9" font-size="6.6" fill="#222" text-anchor="middle" font-weight="normal" >Nandi</text>
<text x="143.4" y="371.9" font-size="6.6" fill="#222" text-anchor="middle" font-weight="normal" >Kisumu</text>
<text x="212.6" y="371.9" font-size="6.6" fill="#222" text-anchor="middle" font-weight="normal" >BL</text>
<line x1="108" y1="393.5" x2="108" y2="463.3" stroke="#111" stroke-width="1.4" stroke-dasharray="1.5 1.3"/>
<line x1="178.6" y1="393.5" x2="178.6" y2="463.3" stroke="#111" stroke-width="1.4" stroke-dasharray="1.5 1.3"/>
<line x1="34.6" y1="390.3" x2="34.6" y2="463.9" stroke="#111" stroke-width="1.3" />
<line x1="34" y1="463.3" x2="251.7" y2="463.3" stroke="#111" stroke-width="1.6" />
<line x1="31.6" y1="463.3" x2="34.6" y2="463.3" stroke="#111" stroke-width="1.1" />
<text x="27.8" y="465.5" font-size="6.4" fill="#222" text-anchor="end" font-weight="normal" >0</text>
<line x1="31.6" y1="447.1" x2="34.6" y2="447.1" stroke="#111" stroke-width="1.1" />
<text x="27.8" y="449.3" font-size="6.4" fill="#222" text-anchor="end" font-weight="normal" >20</text>
<line x1="31.6" y1="430.9" x2="34.6" y2="430.9" stroke="#111" stroke-width="1.1" />
<text x="27.8" y="433.1" font-size="6.4" fill="#222" text-anchor="end" font-weight="normal" >40</text>
<line x1="31.6" y1="414.7" x2="34.6" y2="414.7" stroke="#111" stroke-width="1.1" />
<text x="27.8" y="416.9" font-size="6.4" fill="#222" text-anchor="end" font-weight="normal" >60</text>
<line x1="31.6" y1="398.5" x2="34.6" y2="398.5" stroke="#111" stroke-width="1.1" />
<text x="27.8" y="400.7" font-size="6.4" fill="#222" text-anchor="end" font-weight="normal" >80</text>
<line x1="46.3" y1="463.3" x2="46.3" y2="466.1" stroke="#111" stroke-width="1.1" />
<text x="46.3" y="476.2" font-size="6.6" fill="#959d88" text-anchor="middle" font-weight="normal" >1</text>
<line x1="46.3" y1="453.9" x2="46.3" y2="460" stroke="#66ac40" stroke-width="1.1" />
<line x1="43.1" y1="453.9" x2="49.5" y2="453.9" stroke="#66ac40" stroke-width="1.1" />
<line x1="43.1" y1="460" x2="49.5" y2="460" stroke="#66ac40" stroke-width="1.1" />
<path d="M46.3 454.7L48.86 450.11L43.73 450.11Z" fill="#66ac40"/>
<path d="M42.3 461.2L44.86 456.61L39.73 456.61Z" fill="#66ac40"/>
<path d="M44.8 461.7L47.36 457.11L42.23 457.11Z" fill="#66ac40"/>
<path d="M47.8 461.7L50.36 457.11L45.23 457.11Z" fill="#66ac40"/>
<path d="M50.3 461.2L52.86 456.61L47.73 456.61Z" fill="#66ac40"/>
<path d="M46.3 458.7L48.86 454.11L43.73 454.11Z" fill="#66ac40"/>
<line x1="40.3" y1="457.2" x2="52.3" y2="457.2" stroke="#111" stroke-width="1.4" />
<line x1="63.9" y1="463.3" x2="63.9" y2="466.1" stroke="#111" stroke-width="1.1" />
<text x="63.9" y="476.2" font-size="6.6" fill="#4e5262" text-anchor="middle" font-weight="normal" >2</text>
<line x1="63.9" y1="437.3" x2="63.9" y2="447.9" stroke="#1e2e60" stroke-width="1.1" />
<line x1="60.7" y1="437.3" x2="67.1" y2="437.3" stroke="#1e2e60" stroke-width="1.1" />
<line x1="60.7" y1="447.9" x2="67.1" y2="447.9" stroke="#1e2e60" stroke-width="1.1" />
<circle cx="63.9" cy="437.3" r="1.6" fill="#1e2e60"/>
<circle cx="61.9" cy="438" r="1.6" fill="#1e2e60"/>
<circle cx="65.9" cy="439" r="1.6" fill="#1e2e60"/>
<circle cx="63.9" cy="442" r="1.6" fill="#1e2e60"/>
<circle cx="62" cy="448.7" r="1.6" fill="#1e2e60"/>
<circle cx="65.9" cy="445" r="1.6" fill="#1e2e60"/>
<line x1="57.9" y1="441.7" x2="69.9" y2="441.7" stroke="#111" stroke-width="1.4" />
<line x1="81.5" y1="463.3" x2="81.5" y2="466.1" stroke="#111" stroke-width="1.1" />
<text x="81.5" y="476.2" font-size="6.6" fill="#a8609a" text-anchor="middle" font-weight="normal" >3</text>
<line x1="81.5" y1="399.2" x2="81.5" y2="429.9" stroke="#c01874" stroke-width="1.1" />
<line x1="78.3" y1="399.2" x2="84.7" y2="399.2" stroke="#c01874" stroke-width="1.1" />
<line x1="78.3" y1="429.9" x2="84.7" y2="429.9" stroke="#c01874" stroke-width="1.1" />
<circle cx="81.5" cy="399.2" r="1.6" fill="#c01874"/>
<circle cx="83" cy="403.4" r="1.6" fill="#c01874"/>
<circle cx="79" cy="428.1" r="1.6" fill="#c01874"/>
<circle cx="84" cy="428" r="1.6" fill="#c01874"/>
<circle cx="81.5" cy="430" r="1.6" fill="#c01874"/>
<line x1="75.5" y1="414.5" x2="87.5" y2="414.5" stroke="#111" stroke-width="1.4" />
<line x1="99.1" y1="463.3" x2="99.1" y2="466.1" stroke="#111" stroke-width="1.1" />
<text x="99.1" y="476.2" font-size="6.6" fill="#6e4c5a" text-anchor="middle" font-weight="normal" >4</text>
<line x1="99.1" y1="416.5" x2="99.1" y2="441.2" stroke="#921a3a" stroke-width="1.1" />
<line x1="95.9" y1="416.5" x2="102.3" y2="416.5" stroke="#921a3a" stroke-width="1.1" />
<line x1="95.9" y1="441.2" x2="102.3" y2="441.2" stroke="#921a3a" stroke-width="1.1" />
<circle cx="99.1" cy="418.2" r="1.6" fill="#921a3a"/>
<circle cx="99.1" cy="424.4" r="1.6" fill="#921a3a"/>
<circle cx="99.1" cy="431.3" r="1.6" fill="#921a3a"/>
<circle cx="99.1" cy="444.2" r="1.6" fill="#921a3a"/>
<line x1="93.1" y1="428.9" x2="105.1" y2="428.9" stroke="#111" stroke-width="1.4" />
<line x1="116.7" y1="463.3" x2="116.7" y2="466.1" stroke="#111" stroke-width="1.1" />
<text x="116.7" y="476.2" font-size="6.6" fill="#959d88" text-anchor="middle" font-weight="normal" >1</text>
<line x1="116.7" y1="457.1" x2="116.7" y2="462" stroke="#66ac40" stroke-width="1.1" />
<line x1="113.5" y1="457.1" x2="119.9" y2="457.1" stroke="#66ac40" stroke-width="1.1" />
<line x1="113.5" y1="462" x2="119.9" y2="462" stroke="#66ac40" stroke-width="1.1" />
<path d="M116.7 451.6L118.6 455L114.8 455Z" fill="#66ac40"/>
<path d="M116.7 456L118.6 459.4L114.8 459.4Z" fill="#66ac40"/>
<path d="M114.7 459L116.6 462.4L112.8 462.4Z" fill="#66ac40"/>
<path d="M118.7 459L120.6 462.4L116.8 462.4Z" fill="#66ac40"/>
<line x1="110.7" y1="459.6" x2="122.7" y2="459.6" stroke="#111" stroke-width="1.4" />
<line x1="134.3" y1="463.3" x2="134.3" y2="466.1" stroke="#111" stroke-width="1.1" />
<text x="134.3" y="476.2" font-size="6.6" fill="#4e5262" text-anchor="middle" font-weight="normal" >2</text>
<line x1="134.3" y1="420.7" x2="134.3" y2="461" stroke="#1e2e60" stroke-width="1.1" />
<line x1="131.1" y1="420.7" x2="137.5" y2="420.7" stroke="#1e2e60" stroke-width="1.1" />
<line x1="131.1" y1="461" x2="137.5" y2="461" stroke="#1e2e60" stroke-width="1.1" />
<path d="M134.3 408.8L136.2 412.2L132.4 412.2Z" fill="#1e2e60"/>
<path d="M134.3 430.3L136.2 433.7L132.4 433.7Z" fill="#1e2e60"/>
<path d="M134.3 442.2L136.2 445.6L132.4 445.6Z" fill="#1e2e60"/>
<path d="M134.3 460.8L136.2 464.2L132.4 464.2Z" fill="#1e2e60"/>
<line x1="128.3" y1="440.5" x2="140.3" y2="440.5" stroke="#111" stroke-width="1.4" />
<line x1="151.9" y1="463.3" x2="151.9" y2="466.1" stroke="#111" stroke-width="1.1" />
<text x="151.9" y="476.2" font-size="6.6" fill="#a8609a" text-anchor="middle" font-weight="normal" >3</text>
<line x1="151.9" y1="398.4" x2="151.9" y2="445.4" stroke="#c01874" stroke-width="1.1" />
<line x1="148.7" y1="398.4" x2="155.1" y2="398.4" stroke="#c01874" stroke-width="1.1" />
<line x1="148.7" y1="445.4" x2="155.1" y2="445.4" stroke="#c01874" stroke-width="1.1" />
<path d="M149.5 401.4L151.4 404.8L147.6 404.8Z" fill="#c01874"/>
<path d="M151.9 402.6L153.8 406L150 406Z" fill="#c01874"/>
<path d="M151.9 423.6L153.8 427L150 427Z" fill="#c01874"/>
<path d="M151.9 458.3L153.8 461.7L150 461.7Z" fill="#c01874"/>
<line x1="145.9" y1="421.9" x2="157.9" y2="421.9" stroke="#111" stroke-width="1.4" />
<line x1="169.5" y1="463.3" x2="169.5" y2="466.1" stroke="#111" stroke-width="1.1" />
<text x="169.5" y="476.2" font-size="6.6" fill="#6e4c5a" text-anchor="middle" font-weight="normal" >4</text>
<line x1="169.5" y1="409.6" x2="169.5" y2="453.6" stroke="#921a3a" stroke-width="1.1" />
<line x1="166.3" y1="409.6" x2="172.7" y2="409.6" stroke="#921a3a" stroke-width="1.1" />
<line x1="166.3" y1="453.6" x2="172.7" y2="453.6" stroke="#921a3a" stroke-width="1.1" />
<path d="M169.5 410L171.4 413.4L167.6 413.4Z" fill="#921a3a"/>
<path d="M167.5 415L169.4 418.4L165.6 418.4Z" fill="#921a3a"/>
<path d="M169.5 445.9L171.4 449.3L167.6 449.3Z" fill="#921a3a"/>
<path d="M169.5 460.8L171.4 464.2L167.6 464.2Z" fill="#921a3a"/>
<line x1="163.5" y1="431.3" x2="175.5" y2="431.3" stroke="#111" stroke-width="1.4" />
<line x1="187.1" y1="463.3" x2="187.1" y2="466.1" stroke="#111" stroke-width="1.1" />
<text x="187.1" y="476.2" font-size="6.6" fill="#959d88" text-anchor="middle" font-weight="normal" >1</text>
<line x1="187.1" y1="456" x2="187.1" y2="461" stroke="#66ac40" stroke-width="1.1" />
<line x1="183.9" y1="456" x2="190.3" y2="456" stroke="#66ac40" stroke-width="1.1" />
<line x1="183.9" y1="461" x2="190.3" y2="461" stroke="#66ac40" stroke-width="1.1" />
<circle cx="187.1" cy="452.9" r="1.6" fill="#66ac40"/>
<circle cx="184.1" cy="456" r="1.6" fill="#66ac40"/>
<circle cx="190.1" cy="456" r="1.6" fill="#66ac40"/>
<circle cx="185.1" cy="459" r="1.6" fill="#66ac40"/>
<circle cx="189.1" cy="460" r="1.6" fill="#66ac40"/>
<circle cx="187.1" cy="461" r="1.6" fill="#66ac40"/>
<line x1="181.1" y1="459" x2="193.1" y2="459" stroke="#111" stroke-width="1.4" />
<line x1="204.7" y1="463.3" x2="204.7" y2="466.1" stroke="#111" stroke-width="1.1" />
<text x="204.7" y="476.2" font-size="6.6" fill="#4e5262" text-anchor="middle" font-weight="normal" >2</text>
<line x1="204.7" y1="429.9" x2="204.7" y2="460.3" stroke="#1e2e60" stroke-width="1.1" />
<line x1="201.5" y1="429.9" x2="207.9" y2="429.9" stroke="#1e2e60" stroke-width="1.1" />
<line x1="201.5" y1="460.3" x2="207.9" y2="460.3" stroke="#1e2e60" stroke-width="1.1" />
<circle cx="204.7" cy="418.2" r="1.6" fill="#1e2e60"/>
<circle cx="202.2" cy="429" r="1.6" fill="#1e2e60"/>
<circle cx="207.2" cy="429" r="1.6" fill="#1e2e60"/>
<circle cx="204.7" cy="438" r="1.6" fill="#1e2e60"/>
<circle cx="202.2" cy="445" r="1.6" fill="#1e2e60"/>
<circle cx="205.2" cy="450.4" r="1.6" fill="#1e2e60"/>
<circle cx="202.2" cy="460" r="1.6" fill="#1e2e60"/>
<circle cx="206.2" cy="460" r="1.6" fill="#1e2e60"/>
<line x1="198.7" y1="445.4" x2="210.7" y2="445.4" stroke="#111" stroke-width="1.4" />
<line x1="222.3" y1="463.3" x2="222.3" y2="466.1" stroke="#111" stroke-width="1.1" />
<text x="222.3" y="476.2" font-size="6.6" fill="#a8609a" text-anchor="middle" font-weight="normal" >3</text>
<line x1="222.3" y1="402.6" x2="222.3" y2="452.9" stroke="#c01874" stroke-width="1.1" />
<line x1="219.1" y1="402.6" x2="225.5" y2="402.6" stroke="#c01874" stroke-width="1.1" />
<line x1="219.1" y1="452.9" x2="225.5" y2="452.9" stroke="#c01874" stroke-width="1.1" />
<circle cx="222.3" cy="390.5" r="1.6" fill="#c01874"/>
<circle cx="222.3" cy="407" r="1.6" fill="#c01874"/>
<circle cx="222.3" cy="419.5" r="1.6" fill="#c01874"/>
<circle cx="219.3" cy="435" r="1.6" fill="#c01874"/>
<circle cx="224.3" cy="435" r="1.6" fill="#c01874"/>
<circle cx="222.3" cy="457.8" r="1.6" fill="#c01874"/>
<circle cx="222.3" cy="463" r="1.6" fill="#c01874"/>
<line x1="216.3" y1="428.1" x2="228.3" y2="428.1" stroke="#111" stroke-width="1.4" />
<line x1="239.9" y1="463.3" x2="239.9" y2="466.1" stroke="#111" stroke-width="1.1" />
<text x="239.9" y="476.2" font-size="6.6" fill="#6e4c5a" text-anchor="middle" font-weight="normal" >4</text>
<line x1="239.9" y1="416.5" x2="239.9" y2="458.6" stroke="#921a3a" stroke-width="1.1" />
<line x1="236.7" y1="416.5" x2="243.1" y2="416.5" stroke="#921a3a" stroke-width="1.1" />
<line x1="236.7" y1="458.6" x2="243.1" y2="458.6" stroke="#921a3a" stroke-width="1.1" />
<circle cx="239.9" cy="399.2" r="1.6" fill="#921a3a"/>
<circle cx="239.9" cy="410.8" r="1.6" fill="#921a3a"/>
<circle cx="239.9" cy="422.4" r="1.6" fill="#921a3a"/>
<circle cx="239.9" cy="431.3" r="1.6" fill="#921a3a"/>
<circle cx="237.9" cy="440" r="1.6" fill="#921a3a"/>
<circle cx="242.9" cy="440" r="1.6" fill="#921a3a"/>
<circle cx="239.9" cy="450" r="1.6" fill="#921a3a"/>
<circle cx="239.9" cy="462.8" r="1.6" fill="#921a3a"/>
<line x1="233.9" y1="438" x2="245.9" y2="438" stroke="#111" stroke-width="1.4" />
<line x1="48.6" y1="382.8" x2="80.8" y2="382.8" stroke="#111" stroke-width="1.3" />
<text x="64.7" y="382.67" font-size="5.4" fill="#000" text-anchor="middle" font-weight="bold" >*</text>
<line x1="48.6" y1="389.3" x2="63.5" y2="389.3" stroke="#111" stroke-width="1.3" />
<text x="56" y="388.77" font-size="5.4" fill="#000" text-anchor="middle" font-weight="bold" >*</text>
<line x1="48.6" y1="396" x2="99.9" y2="396" stroke="#111" stroke-width="1.3" />
<text x="73.4" y="395.47" font-size="5.4" fill="#000" text-anchor="middle" font-weight="bold" >*</text>
<line x1="119.9" y1="383" x2="151.5" y2="383" stroke="#111" stroke-width="1.3" />
<text x="135.6" y="381.3" font-size="6" fill="#222" text-anchor="middle" font-weight="normal" >0.05</text>
<line x1="119.8" y1="389.4" x2="134.5" y2="389.4" stroke="#111" stroke-width="1.3" />
<text x="127.2" y="387.91" font-size="5.6" fill="#222" text-anchor="middle" font-weight="normal" textLength="7.2" lengthAdjust="spacingAndGlyphs">n.s.</text>
<line x1="119.9" y1="396" x2="169.9" y2="396" stroke="#111" stroke-width="1.3" />
<text x="144.6" y="394.1" font-size="6" fill="#222" text-anchor="middle" font-weight="normal" >0.05</text>
<line x1="189.9" y1="382.8" x2="221.5" y2="382.8" stroke="#111" stroke-width="1.3" />
<text x="205.2" y="382.67" font-size="5.4" fill="#000" text-anchor="middle" font-weight="bold" >***</text>
<line x1="189.9" y1="389.3" x2="204.2" y2="389.3" stroke="#111" stroke-width="1.3" />
<text x="196.8" y="388.77" font-size="5.4" fill="#000" text-anchor="middle" font-weight="bold" >**</text>
<line x1="189.9" y1="396" x2="239.9" y2="396" stroke="#111" stroke-width="1.3" />
<text x="214.1" y="395.47" font-size="5.4" fill="#000" text-anchor="middle" font-weight="bold" >***</text>
<text transform="translate(329.2,300.25) rotate(-90)" x="0" y="0" font-size="8.6" fill="#1a1a1a" font-weight="bold" text-anchor="middle" textLength="78.4" lengthAdjust="spacingAndGlyphs">% of KIR3DL1 positives cells</text>
<text x="351.9" y="257.2" font-size="9" fill="#222" textLength="104.4" lengthAdjust="spacingAndGlyphs">CD56negCD16pos subset</text>
<line x1="348.5" y1="262" x2="348.5" y2="339.3" stroke="#111" stroke-width="1.3" />
<line x1="347.9" y1="338.7" x2="458" y2="338.7" stroke="#111" stroke-width="1.5" />
<line x1="345.5" y1="338.7" x2="348.5" y2="338.7" stroke="#111" stroke-width="1.1" />
<text x="341.7" y="340.9" font-size="6.6" fill="#222" text-anchor="end" font-weight="normal" >0</text>
<line x1="345.5" y1="323.92" x2="348.5" y2="323.92" stroke="#111" stroke-width="1.1" />
<text x="341.7" y="326.12" font-size="6.6" fill="#222" text-anchor="end" font-weight="normal" >10</text>
<line x1="345.5" y1="309.14" x2="348.5" y2="309.14" stroke="#111" stroke-width="1.1" />
<text x="341.7" y="311.34" font-size="6.6" fill="#222" text-anchor="end" font-weight="normal" >20</text>
<line x1="345.5" y1="294.36" x2="348.5" y2="294.36" stroke="#111" stroke-width="1.1" />
<text x="341.7" y="296.56" font-size="6.6" fill="#222" text-anchor="end" font-weight="normal" >30</text>
<line x1="345.5" y1="279.58" x2="348.5" y2="279.58" stroke="#111" stroke-width="1.1" />
<text x="341.7" y="281.78" font-size="6.6" fill="#222" text-anchor="end" font-weight="normal" >40</text>
<line x1="345.5" y1="264.8" x2="348.5" y2="264.8" stroke="#111" stroke-width="1.1" />
<text x="341.7" y="267" font-size="6.6" fill="#222" text-anchor="end" font-weight="normal" >50</text>
<line x1="370.9" y1="338.7" x2="370.9" y2="341.5" stroke="#111" stroke-width="1.1" />
<text x="370.9" y="351.6" font-size="6.6" fill="#333" text-anchor="middle" font-weight="normal" >Nandi</text>
<line x1="370.9" y1="322.6" x2="370.9" y2="330.4" stroke="#222" stroke-width="1.1" />
<line x1="365.4" y1="322.6" x2="376.4" y2="322.6" stroke="#222" stroke-width="1.1" />
<line x1="365.4" y1="330.4" x2="376.4" y2="330.4" stroke="#222" stroke-width="1.1" />
<circle cx="364.9" cy="323.2" r="1.5" fill="#444"/>
<circle cx="368.9" cy="323.2" r="1.5" fill="#444"/>
<circle cx="372.9" cy="323.2" r="1.5" fill="#444"/>
<circle cx="376.4" cy="323.2" r="1.5" fill="#444"/>
<circle cx="365.9" cy="330.7" r="1.5" fill="#444"/>
<circle cx="369.9" cy="330.7" r="1.5" fill="#444"/>
<circle cx="373.9" cy="330.7" r="1.5" fill="#444"/>
<circle cx="370.9" cy="326" r="1.5" fill="#444"/>
<line x1="360.4" y1="326.6" x2="381.4" y2="326.6" stroke="#111" stroke-width="1.4" />
<line x1="404.2" y1="338.7" x2="404.2" y2="341.5" stroke="#111" stroke-width="1.1" />
<text x="404.2" y="351.6" font-size="6.6" fill="#333" text-anchor="middle" font-weight="normal" >Kisumu</text>
<line x1="404.2" y1="312.3" x2="404.2" y2="327.1" stroke="#222" stroke-width="1.1" />
<line x1="398.7" y1="312.3" x2="409.7" y2="312.3" stroke="#222" stroke-width="1.1" />
<line x1="398.7" y1="327.1" x2="409.7" y2="327.1" stroke="#222" stroke-width="1.1" />
<path d="M404.2 304.82L405.98 308.01L402.42 308.01Z" fill="#444"/>
<path d="M404.2 317.93L405.98 321.11L402.42 321.11Z" fill="#444"/>
<path d="M401.2 324.12L402.98 327.31L399.42 327.31Z" fill="#444"/>
<path d="M407.2 324.12L408.98 327.31L405.42 327.31Z" fill="#444"/>
<line x1="393.7" y1="319.4" x2="414.7" y2="319.4" stroke="#111" stroke-width="1.4" />
<line x1="437.1" y1="338.7" x2="437.1" y2="341.5" stroke="#111" stroke-width="1.1" />
<text x="437.1" y="351.6" font-size="6.6" fill="#333" text-anchor="middle" font-weight="normal" >BL</text>
<line x1="437.1" y1="289.9" x2="437.1" y2="322.6" stroke="#222" stroke-width="1.1" />
<line x1="431.6" y1="289.9" x2="442.6" y2="289.9" stroke="#222" stroke-width="1.1" />
<line x1="431.6" y1="322.6" x2="442.6" y2="322.6" stroke="#222" stroke-width="1.1" />
<circle cx="437.1" cy="280.8" r="1.5" fill="#444"/>
<circle cx="437.1" cy="291.5" r="1.5" fill="#444"/>
<circle cx="433.1" cy="300.6" r="1.5" fill="#444"/>
<circle cx="441.1" cy="300.6" r="1.5" fill="#444"/>
<circle cx="437.1" cy="305.8" r="1.5" fill="#444"/>
<circle cx="433.1" cy="309.6" r="1.5" fill="#444"/>
<circle cx="441.1" cy="309" r="1.5" fill="#444"/>
<circle cx="441.1" cy="328.4" r="1.5" fill="#444"/>
<circle cx="432.1" cy="332.3" r="1.5" fill="#444"/>
<line x1="426.6" y1="305.8" x2="447.6" y2="305.8" stroke="#111" stroke-width="1.4" />
<line x1="371.8" y1="269.4" x2="436.6" y2="269.4" stroke="#111" stroke-width="1.3" />
<text x="404.2" y="268.97" font-size="5.4" fill="#000" text-anchor="middle" font-weight="bold" >*</text>
<line x1="371.8" y1="277.2" x2="402" y2="277.2" stroke="#111" stroke-width="1.3" />
<text x="387.2" y="276.77" font-size="5.4" fill="#000" text-anchor="middle" font-weight="bold" >*</text>
<line x1="296" y1="365.3" x2="296" y2="441.7" stroke="#222" stroke-width="1.4" />
<line x1="343.4" y1="365.3" x2="343.4" y2="441.7" stroke="#222" stroke-width="1.4" />
<line x1="390.5" y1="365.3" x2="390.5" y2="441.7" stroke="#222" stroke-width="1.4" />
<line x1="437.5" y1="365.3" x2="437.5" y2="441.7" stroke="#222" stroke-width="1.4" />
<line x1="484.5" y1="365.3" x2="484.5" y2="441.7" stroke="#222" stroke-width="1.4" />
<line x1="295.3" y1="366" x2="485.2" y2="366" stroke="#222" stroke-width="1.4" />
<line x1="295.3" y1="380.6" x2="485.2" y2="380.6" stroke="#222" stroke-width="1.4" />
<line x1="295.3" y1="395.7" x2="485.2" y2="395.7" stroke="#222" stroke-width="1.4" />
<line x1="295.3" y1="410.9" x2="485.2" y2="410.9" stroke="#222" stroke-width="1.4" />
<line x1="295.3" y1="425.9" x2="485.2" y2="425.9" stroke="#222" stroke-width="1.4" />
<line x1="295.3" y1="441" x2="485.2" y2="441" stroke="#222" stroke-width="1.4" />
<text x="319.6" y="376" font-size="8.5" fill="#222" text-anchor="middle" font-weight="normal" >Number</text>
<text x="366.6" y="376" font-size="8.5" fill="#222" text-anchor="middle" font-weight="normal" >Color</text>
<text x="402.5" y="376" font-size="8.5" fill="#222" text-anchor="start" font-weight="normal" >CD56</text>
<text x="461.2" y="376" font-size="8.5" fill="#222" text-anchor="middle" font-weight="normal" >CD16</text>
<text x="319.6" y="391.1" font-size="8.5" fill="#a0a462" text-anchor="middle" font-weight="normal" >1</text>
<text x="355.1" y="391.1" font-size="8.5" fill="#7aa860" text-anchor="start" font-weight="normal" >Green</text>
<text x="402.5" y="391.1" font-size="8.5" fill="#7aa860" text-anchor="start" font-weight="normal" >Bright</text>
<text x="461" y="391.1" font-size="8.5" fill="#7aa860" text-anchor="middle" font-weight="normal" >Negative</text>
<text x="319.6" y="406.2" font-size="8.5" fill="#3a4258" text-anchor="middle" font-weight="normal" >2</text>
<text x="355.1" y="406.2" font-size="8.5" fill="#3a4258" text-anchor="start" font-weight="normal" >Blue</text>
<text x="402.5" y="406.2" font-size="8.5" fill="#3a4258" text-anchor="start" font-weight="normal" >Bright</text>
<text x="459.5" y="406.2" font-size="8.5" fill="#3a4258" text-anchor="middle" font-weight="normal" >Positive</text>
<text x="319.6" y="421.2" font-size="8.5" fill="#b03a68" text-anchor="middle" font-weight="normal" >3</text>
<text x="355.1" y="421.2" font-size="8.5" fill="#a83888" text-anchor="start" font-weight="normal" >Pink</text>
<text x="402.5" y="421.2" font-size="8.5" fill="#a83888" text-anchor="start" font-weight="normal" >Dim</text>
<text x="459.5" y="421.2" font-size="8.5" fill="#a83888" text-anchor="middle" font-weight="normal" >Positive</text>
<text x="319.6" y="435.9" font-size="8.5" fill="#74283e" text-anchor="middle" font-weight="normal" >4</text>
<text x="355.1" y="435.9" font-size="8.5" fill="#74283e" text-anchor="start" font-weight="normal" >Red</text>
<text x="402.5" y="435.9" font-size="8.5" fill="#74283e" text-anchor="start" font-weight="normal" >Neg</text>
<text x="459.5" y="435.9" font-size="8.5" fill="#74283e" text-anchor="middle" font-weight="normal" >Positive</text>
<text x="7.5" y="17.7" font-size="12" fill="#000" text-anchor="start" font-weight="bold" >A</text>
<text x="268.3" y="17.5" font-size="12" fill="#000" text-anchor="start" font-weight="bold" >B</text>
<text x="7.3" y="131.5" font-size="12" fill="#000" text-anchor="start" font-weight="bold" >C</text>
<text x="268.5" y="131.9" font-size="12" fill="#000" text-anchor="start" font-weight="bold" >D</text>
<text x="7.5" y="246" font-size="12" fill="#000" text-anchor="start" font-weight="bold" >E</text>
<text x="268.3" y="245.8" font-size="12" fill="#000" text-anchor="start" font-weight="bold" >F</text>
<text x="7.3" y="362.75" font-size="12" fill="#000" text-anchor="start" font-weight="bold" >G</text>
<text x="268.3" y="362.75" font-size="12" fill="#000" text-anchor="start" font-weight="bold" >H</text>
<rect x="0" y="0" width="520" height="1.4" fill="#000"/><rect x="0" y="0" width="1.3" height="485" fill="#000"/><rect x="518.3" y="0" width="1.7" height="485" fill="#000"/><rect x="0" y="483" width="520" height="2" fill="#000"/>
</svg></body></html>
